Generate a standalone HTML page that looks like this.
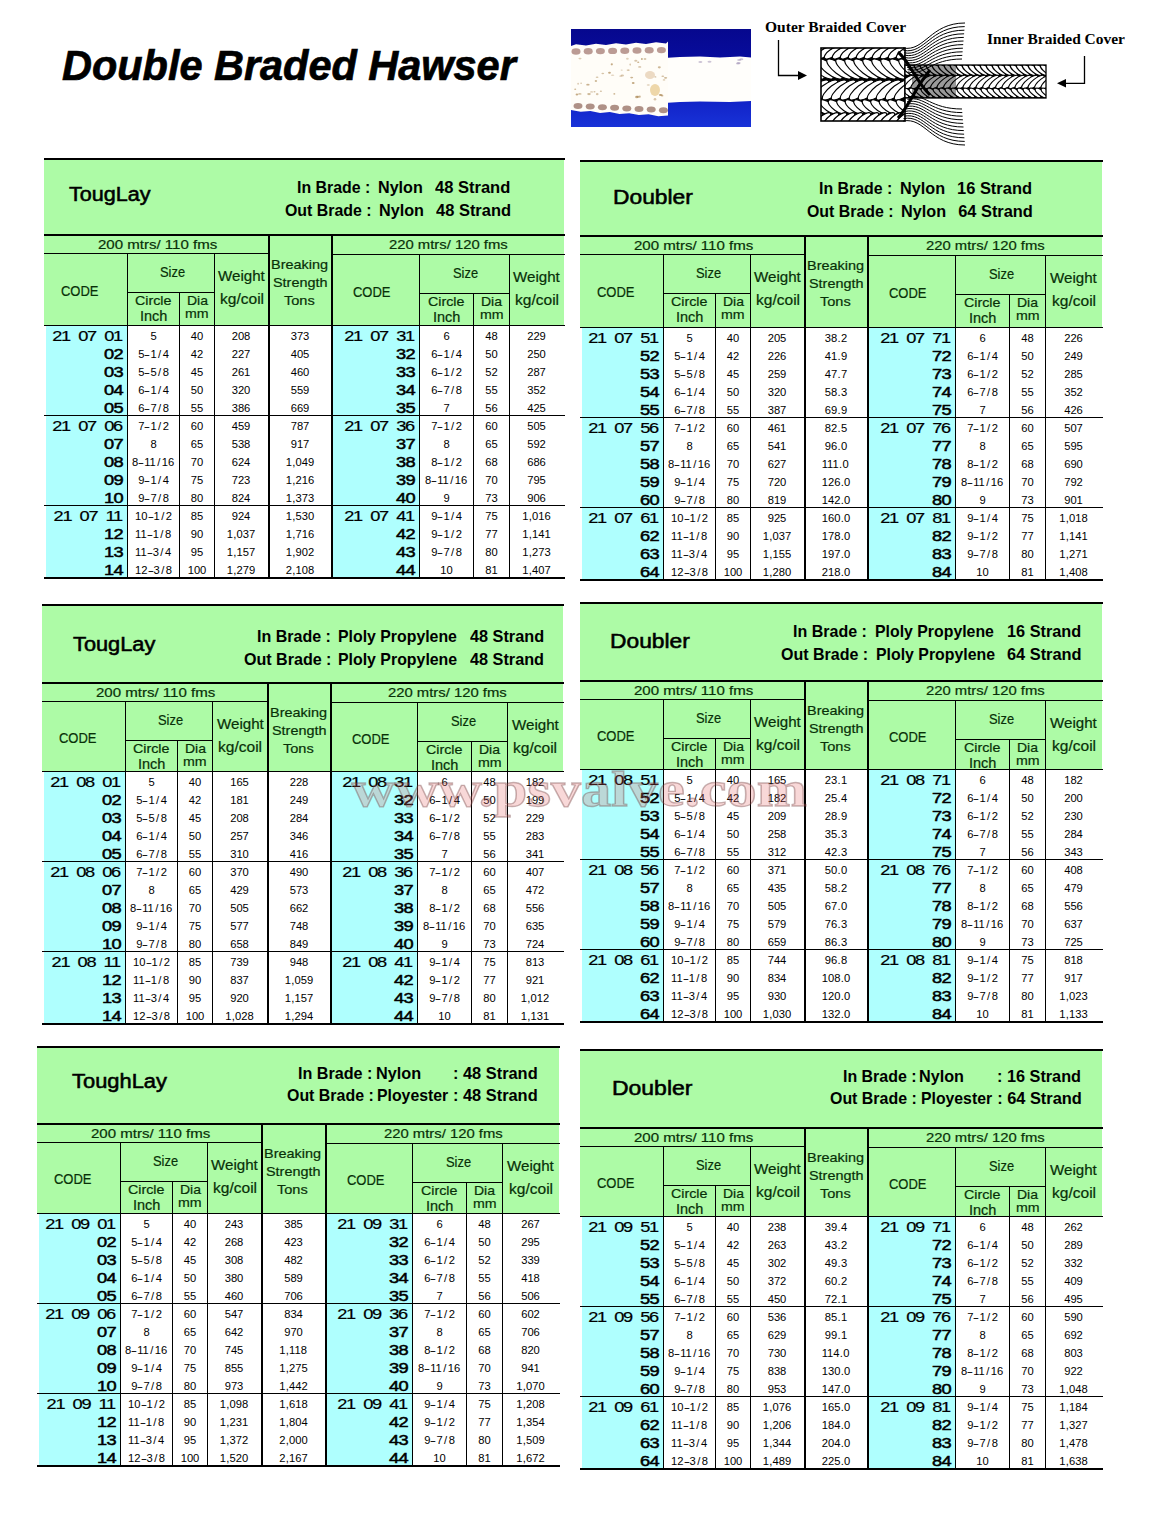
<!DOCTYPE html>
<html><head><meta charset="utf-8"><style>
html,body{margin:0;padding:0;background:#fff;}
body{width:1152px;height:1516px;position:relative;overflow:hidden;}
div{position:absolute;white-space:pre;margin:0;padding:0;}
i{position:absolute;display:block;}
.c{-webkit-text-stroke:0.2px #000;font:400 15.2px/15.2px "Liberation Sans",sans-serif;letter-spacing:-1.03px;word-spacing:3.64px;width:100px;text-align:right;color:#000;transform:scaleX(1.2);transform-origin:100% 50%;}
.v{font:400 11.2px/11.2px "Liberation Sans",sans-serif;color:#000;}
.v b{display:inline-block;width:6px;text-align:center;font-weight:400;}
.v s{display:inline-block;width:3.7px;text-align:center;text-decoration:none;}
.v u{display:inline-block;width:6px;text-align:center;text-decoration:none;transform:scaleX(1.7);}
.h{color:#083008;-webkit-text-stroke:0.2px #083008;}
</style></head><body>
<i style="left:44px;top:158px;width:520px;height:76px;background:#adfba6;"></i>
<i style="left:44px;top:234px;width:520px;height:92px;background:#adfba6;"></i>
<i style="left:46px;top:326px;width:81px;height:251px;background:#affffe;"></i>
<i style="left:333px;top:326px;width:86px;height:251px;background:#affffe;"></i>
<i style="left:44px;top:158px;width:521px;height:2px;background:#000;"></i>
<i style="left:44px;top:234px;width:521px;height:2px;background:#000;"></i>
<i style="left:44px;top:253px;width:224px;height:1px;background:#000;"></i>
<i style="left:333px;top:254px;width:232px;height:1px;background:#000;"></i>
<i style="left:127px;top:292px;width:87px;height:1px;background:#000;"></i>
<i style="left:419px;top:293px;width:90px;height:1px;background:#000;"></i>
<i style="left:44px;top:325px;width:289px;height:1px;background:#000;"></i>
<i style="left:333px;top:325px;width:232px;height:1px;background:#000;"></i>
<i style="left:44px;top:415px;width:521px;height:1px;background:#000;"></i>
<i style="left:44px;top:505px;width:521px;height:1px;background:#000;"></i>
<i style="left:44px;top:577px;width:521px;height:2px;background:#000;"></i>
<i style="left:127px;top:253px;width:1px;height:324px;background:#000;"></i>
<i style="left:179px;top:292px;width:1px;height:285px;background:#000;"></i>
<i style="left:214px;top:253px;width:1px;height:324px;background:#000;"></i>
<i style="left:268px;top:234px;width:2px;height:343px;background:#000;"></i>
<i style="left:331px;top:234px;width:2px;height:343px;background:#000;"></i>
<i style="left:419px;top:254px;width:1px;height:323px;background:#000;"></i>
<i style="left:473px;top:293px;width:1px;height:284px;background:#000;"></i>
<i style="left:509px;top:254px;width:1px;height:323px;background:#000;"></i>
<div style="left:97.85px;top:237.54px;font:normal 400 13.3px/13.3px 'Liberation Sans';transform:scale(1.131,1.000);transform-origin:0 11.26px;color:#083008;-webkit-text-stroke:0.2px #083008;">200 mtrs/ 110 fms</div>
<div style="left:389.06px;top:238.34px;font:normal 400 13.3px/13.3px 'Liberation Sans';transform:scale(1.115,1.000);transform-origin:0 11.26px;color:#083008;-webkit-text-stroke:0.2px #083008;">220 mtrs/ 120 fms</div>
<div style="left:61.20px;top:283.71px;font:normal 400 14.4px/14.4px 'Liberation Sans';transform:scale(0.902,1.000);transform-origin:0 12.19px;color:#083008;-webkit-text-stroke:0.2px #083008;">CODE</div>
<div style="left:353.20px;top:284.91px;font:normal 400 14.4px/14.4px 'Liberation Sans';transform:scale(0.902,1.000);transform-origin:0 12.19px;color:#083008;-webkit-text-stroke:0.2px #083008;">CODE</div>
<div style="left:159.57px;top:264.63px;font:normal 400 14.5px/14.5px 'Liberation Sans';transform:scale(0.889,1.000);transform-origin:0 12.27px;color:#083008;-webkit-text-stroke:0.2px #083008;">Size</div>
<div style="left:135.19px;top:295.48px;font:normal 400 12.9px/12.9px 'Liberation Sans';transform:scale(1.106,1.000);transform-origin:0 10.92px;color:#083008;-webkit-text-stroke:0.2px #083008;">Circle</div>
<div style="left:139.69px;top:309.31px;font:normal 400 14.4px/14.4px 'Liberation Sans';transform:scale(1.009,1.000);transform-origin:0 12.19px;color:#083008;-webkit-text-stroke:0.2px #083008;">Inch</div>
<div style="left:186.88px;top:295.48px;font:normal 400 12.9px/12.9px 'Liberation Sans';transform:scale(1.086,1.000);transform-origin:0 10.92px;color:#083008;-webkit-text-stroke:0.2px #083008;">Dia</div>
<div style="left:185.18px;top:307.17px;font:normal 400 13.5px/13.5px 'Liberation Sans';transform:scale(1.049,1.000);transform-origin:0 11.43px;color:#083008;-webkit-text-stroke:0.2px #083008;">mm</div>
<div style="left:218.22px;top:268.73px;font:normal 400 14.2px/14.2px 'Liberation Sans';transform:scale(1.065,1.000);transform-origin:0 12.02px;color:#083008;-webkit-text-stroke:0.2px #083008;">Weight</div>
<div style="left:219.69px;top:292.41px;font:normal 400 14.4px/14.4px 'Liberation Sans';transform:scale(1.080,1.000);transform-origin:0 12.19px;color:#083008;-webkit-text-stroke:0.2px #083008;">kg/coil</div>
<div style="left:453.07px;top:265.63px;font:normal 400 14.5px/14.5px 'Liberation Sans';transform:scale(0.889,1.000);transform-origin:0 12.27px;color:#083008;-webkit-text-stroke:0.2px #083008;">Size</div>
<div style="left:428.19px;top:296.48px;font:normal 400 12.9px/12.9px 'Liberation Sans';transform:scale(1.106,1.000);transform-origin:0 10.92px;color:#083008;-webkit-text-stroke:0.2px #083008;">Circle</div>
<div style="left:432.69px;top:310.31px;font:normal 400 14.4px/14.4px 'Liberation Sans';transform:scale(1.009,1.000);transform-origin:0 12.19px;color:#083008;-webkit-text-stroke:0.2px #083008;">Inch</div>
<div style="left:481.38px;top:296.48px;font:normal 400 12.9px/12.9px 'Liberation Sans';transform:scale(1.086,1.000);transform-origin:0 10.92px;color:#083008;-webkit-text-stroke:0.2px #083008;">Dia</div>
<div style="left:479.68px;top:308.17px;font:normal 400 13.5px/13.5px 'Liberation Sans';transform:scale(1.049,1.000);transform-origin:0 11.43px;color:#083008;-webkit-text-stroke:0.2px #083008;">mm</div>
<div style="left:513.12px;top:269.73px;font:normal 400 14.2px/14.2px 'Liberation Sans';transform:scale(1.065,1.000);transform-origin:0 12.02px;color:#083008;-webkit-text-stroke:0.2px #083008;">Weight</div>
<div style="left:514.59px;top:293.41px;font:normal 400 14.4px/14.4px 'Liberation Sans';transform:scale(1.080,1.000);transform-origin:0 12.19px;color:#083008;-webkit-text-stroke:0.2px #083008;">kg/coil</div>
<div style="left:270.94px;top:257.54px;font:normal 400 13.3px/13.3px 'Liberation Sans';transform:scale(1.086,1.000);transform-origin:0 11.26px;color:#083008;-webkit-text-stroke:0.2px #083008;">Breaking</div>
<div style="left:272.73px;top:276.37px;font:normal 400 13.5px/13.5px 'Liberation Sans';transform:scale(1.067,1.000);transform-origin:0 11.43px;color:#083008;-webkit-text-stroke:0.2px #083008;">Strength</div>
<div style="left:283.76px;top:294.29px;font:normal 400 13.6px/13.6px 'Liberation Sans';transform:scale(1.070,1.000);transform-origin:0 11.51px;color:#083008;-webkit-text-stroke:0.2px #083008;">Tons</div>
<div style="left:68.97px;top:183.67px;font:normal 400 20px/20px 'Liberation Sans';color:#000;transform:scale(1.080,1.000);transform-origin:0 16.93px;-webkit-text-stroke:0.55px #000;">TougLay</div>
<div style="left:296.67px;top:178.62px;font:normal 700 16.4px/16.4px 'Liberation Sans';color:#000;transform:scale(0.970,1.000);transform-origin:0 13.88px;">In Brade :</div>
<div style="left:377.95px;top:178.62px;font:normal 700 16.4px/16.4px 'Liberation Sans';color:#000;transform:scale(0.983,1.000);transform-origin:0 13.88px;">Nylon</div>
<div style="left:434.95px;top:178.62px;font:normal 700 16.4px/16.4px 'Liberation Sans';color:#000;transform:scale(1.008,1.000);transform-origin:0 13.88px;">48 Strand</div>
<div style="left:284.56px;top:201.52px;font:normal 700 16.4px/16.4px 'Liberation Sans';color:#000;transform:scale(0.970,1.000);transform-origin:0 13.88px;">Out Brade :</div>
<div style="left:378.55px;top:201.52px;font:normal 700 16.4px/16.4px 'Liberation Sans';color:#000;transform:scale(0.987,1.000);transform-origin:0 13.88px;">Nylon</div>
<div style="left:436.00px;top:201.52px;font:normal 700 16.4px/16.4px 'Liberation Sans';color:#000;transform:scale(1.005,1.000);transform-origin:0 13.88px;">48 Strand</div>
<div class="c" style="left:21.92px;top:328.33px">21 07 01</div>
<div class="v" style="left:150.39px;top:330.52px">5</div>
<div class="v" style="left:190.77px;top:330.52px">40</div>
<div class="v" style="left:231.66px;top:330.52px">208</div>
<div class="v" style="left:290.66px;top:330.52px">373</div>
<div class="c" style="left:22.50px;top:346.33px;-webkit-text-stroke:0.5px #000;letter-spacing:-0.55px">02</div>
<div class="v" style="left:138.16px;top:348.52px">5<u>-</u>1<b>/</b>4</div>
<div class="v" style="left:190.77px;top:348.52px">42</div>
<div class="v" style="left:231.66px;top:348.52px">227</div>
<div class="v" style="left:290.66px;top:348.52px">405</div>
<div class="c" style="left:22.50px;top:364.33px;-webkit-text-stroke:0.5px #000;letter-spacing:-0.55px">03</div>
<div class="v" style="left:138.16px;top:366.52px">5<u>-</u>5<b>/</b>8</div>
<div class="v" style="left:190.77px;top:366.52px">45</div>
<div class="v" style="left:231.66px;top:366.52px">261</div>
<div class="v" style="left:290.66px;top:366.52px">460</div>
<div class="c" style="left:22.50px;top:382.33px;-webkit-text-stroke:0.5px #000;letter-spacing:-0.55px">04</div>
<div class="v" style="left:138.16px;top:384.52px">6<u>-</u>1<b>/</b>4</div>
<div class="v" style="left:190.77px;top:384.52px">50</div>
<div class="v" style="left:231.66px;top:384.52px">320</div>
<div class="v" style="left:290.66px;top:384.52px">559</div>
<div class="c" style="left:22.50px;top:400.33px;-webkit-text-stroke:0.5px #000;letter-spacing:-0.55px">05</div>
<div class="v" style="left:138.16px;top:402.52px">6<u>-</u>7<b>/</b>8</div>
<div class="v" style="left:190.77px;top:402.52px">55</div>
<div class="v" style="left:231.66px;top:402.52px">386</div>
<div class="v" style="left:290.66px;top:402.52px">669</div>
<div class="c" style="left:21.92px;top:418.33px">21 07 06</div>
<div class="v" style="left:138.16px;top:420.52px">7<u>-</u>1<b>/</b>2</div>
<div class="v" style="left:190.77px;top:420.52px">60</div>
<div class="v" style="left:231.66px;top:420.52px">459</div>
<div class="v" style="left:290.66px;top:420.52px">787</div>
<div class="c" style="left:22.50px;top:436.33px;-webkit-text-stroke:0.5px #000;letter-spacing:-0.55px">07</div>
<div class="v" style="left:150.39px;top:438.52px">8</div>
<div class="v" style="left:190.77px;top:438.52px">65</div>
<div class="v" style="left:231.66px;top:438.52px">538</div>
<div class="v" style="left:290.66px;top:438.52px">917</div>
<div class="c" style="left:22.50px;top:454.33px;-webkit-text-stroke:0.5px #000;letter-spacing:-0.55px">08</div>
<div class="v" style="left:131.93px;top:456.52px">8<u>-</u>11<b>/</b>16</div>
<div class="v" style="left:190.77px;top:456.52px">70</div>
<div class="v" style="left:231.66px;top:456.52px">624</div>
<div class="v" style="left:285.70px;top:456.52px">1<s>,</s>049</div>
<div class="c" style="left:22.50px;top:472.33px;-webkit-text-stroke:0.5px #000;letter-spacing:-0.55px">09</div>
<div class="v" style="left:138.16px;top:474.52px">9<u>-</u>1<b>/</b>4</div>
<div class="v" style="left:190.77px;top:474.52px">75</div>
<div class="v" style="left:231.66px;top:474.52px">723</div>
<div class="v" style="left:285.70px;top:474.52px">1<s>,</s>216</div>
<div class="c" style="left:22.50px;top:490.33px;-webkit-text-stroke:0.5px #000;letter-spacing:-0.55px">10</div>
<div class="v" style="left:138.16px;top:492.52px">9<u>-</u>7<b>/</b>8</div>
<div class="v" style="left:190.77px;top:492.52px">80</div>
<div class="v" style="left:231.66px;top:492.52px">824</div>
<div class="v" style="left:285.70px;top:492.52px">1<s>,</s>373</div>
<div class="c" style="left:21.92px;top:508.33px">21 07 11</div>
<div class="v" style="left:135.05px;top:510.52px">10<u>-</u>1<b>/</b>2</div>
<div class="v" style="left:190.77px;top:510.52px">85</div>
<div class="v" style="left:231.66px;top:510.52px">924</div>
<div class="v" style="left:285.70px;top:510.52px">1<s>,</s>530</div>
<div class="c" style="left:22.50px;top:526.33px;-webkit-text-stroke:0.5px #000;letter-spacing:-0.55px">12</div>
<div class="v" style="left:135.05px;top:528.52px">11<u>-</u>1<b>/</b>8</div>
<div class="v" style="left:190.77px;top:528.52px">90</div>
<div class="v" style="left:226.70px;top:528.52px">1<s>,</s>037</div>
<div class="v" style="left:285.70px;top:528.52px">1<s>,</s>716</div>
<div class="c" style="left:22.50px;top:544.33px;-webkit-text-stroke:0.5px #000;letter-spacing:-0.55px">13</div>
<div class="v" style="left:135.05px;top:546.52px">11<u>-</u>3<b>/</b>4</div>
<div class="v" style="left:190.77px;top:546.52px">95</div>
<div class="v" style="left:226.70px;top:546.52px">1<s>,</s>157</div>
<div class="v" style="left:285.70px;top:546.52px">1<s>,</s>902</div>
<div class="c" style="left:22.50px;top:562.33px;-webkit-text-stroke:0.5px #000;letter-spacing:-0.55px">14</div>
<div class="v" style="left:135.05px;top:564.52px">12<u>-</u>3<b>/</b>8</div>
<div class="v" style="left:187.66px;top:564.52px">100</div>
<div class="v" style="left:226.70px;top:564.52px">1<s>,</s>279</div>
<div class="v" style="left:285.70px;top:564.52px">2<s>,</s>108</div>
<div class="c" style="left:314.42px;top:328.33px">21 07 31</div>
<div class="v" style="left:443.39px;top:330.52px">6</div>
<div class="v" style="left:485.27px;top:330.52px">48</div>
<div class="v" style="left:527.16px;top:330.52px">229</div>
<div class="c" style="left:315.00px;top:346.33px;-webkit-text-stroke:0.5px #000;letter-spacing:-0.55px">32</div>
<div class="v" style="left:431.16px;top:348.52px">6<u>-</u>1<b>/</b>4</div>
<div class="v" style="left:485.27px;top:348.52px">50</div>
<div class="v" style="left:527.16px;top:348.52px">250</div>
<div class="c" style="left:315.00px;top:364.33px;-webkit-text-stroke:0.5px #000;letter-spacing:-0.55px">33</div>
<div class="v" style="left:431.16px;top:366.52px">6<u>-</u>1<b>/</b>2</div>
<div class="v" style="left:485.27px;top:366.52px">52</div>
<div class="v" style="left:527.16px;top:366.52px">287</div>
<div class="c" style="left:315.00px;top:382.33px;-webkit-text-stroke:0.5px #000;letter-spacing:-0.55px">34</div>
<div class="v" style="left:431.16px;top:384.52px">6<u>-</u>7<b>/</b>8</div>
<div class="v" style="left:485.27px;top:384.52px">55</div>
<div class="v" style="left:527.16px;top:384.52px">352</div>
<div class="c" style="left:315.00px;top:400.33px;-webkit-text-stroke:0.5px #000;letter-spacing:-0.55px">35</div>
<div class="v" style="left:443.39px;top:402.52px">7</div>
<div class="v" style="left:485.27px;top:402.52px">56</div>
<div class="v" style="left:527.16px;top:402.52px">425</div>
<div class="c" style="left:314.42px;top:418.33px">21 07 36</div>
<div class="v" style="left:431.16px;top:420.52px">7<u>-</u>1<b>/</b>2</div>
<div class="v" style="left:485.27px;top:420.52px">60</div>
<div class="v" style="left:527.16px;top:420.52px">505</div>
<div class="c" style="left:315.00px;top:436.33px;-webkit-text-stroke:0.5px #000;letter-spacing:-0.55px">37</div>
<div class="v" style="left:443.39px;top:438.52px">8</div>
<div class="v" style="left:485.27px;top:438.52px">65</div>
<div class="v" style="left:527.16px;top:438.52px">592</div>
<div class="c" style="left:315.00px;top:454.33px;-webkit-text-stroke:0.5px #000;letter-spacing:-0.55px">38</div>
<div class="v" style="left:431.16px;top:456.52px">8<u>-</u>1<b>/</b>2</div>
<div class="v" style="left:485.27px;top:456.52px">68</div>
<div class="v" style="left:527.16px;top:456.52px">686</div>
<div class="c" style="left:315.00px;top:472.33px;-webkit-text-stroke:0.5px #000;letter-spacing:-0.55px">39</div>
<div class="v" style="left:424.93px;top:474.52px">8<u>-</u>11<b>/</b>16</div>
<div class="v" style="left:485.27px;top:474.52px">70</div>
<div class="v" style="left:527.16px;top:474.52px">795</div>
<div class="c" style="left:315.00px;top:490.33px;-webkit-text-stroke:0.5px #000;letter-spacing:-0.55px">40</div>
<div class="v" style="left:443.39px;top:492.52px">9</div>
<div class="v" style="left:485.27px;top:492.52px">73</div>
<div class="v" style="left:527.16px;top:492.52px">906</div>
<div class="c" style="left:314.42px;top:508.33px">21 07 41</div>
<div class="v" style="left:431.16px;top:510.52px">9<u>-</u>1<b>/</b>4</div>
<div class="v" style="left:485.27px;top:510.52px">75</div>
<div class="v" style="left:522.20px;top:510.52px">1<s>,</s>016</div>
<div class="c" style="left:315.00px;top:526.33px;-webkit-text-stroke:0.5px #000;letter-spacing:-0.55px">42</div>
<div class="v" style="left:431.16px;top:528.52px">9<u>-</u>1<b>/</b>2</div>
<div class="v" style="left:485.27px;top:528.52px">77</div>
<div class="v" style="left:522.20px;top:528.52px">1<s>,</s>141</div>
<div class="c" style="left:315.00px;top:544.33px;-webkit-text-stroke:0.5px #000;letter-spacing:-0.55px">43</div>
<div class="v" style="left:431.16px;top:546.52px">9<u>-</u>7<b>/</b>8</div>
<div class="v" style="left:485.27px;top:546.52px">80</div>
<div class="v" style="left:522.20px;top:546.52px">1<s>,</s>273</div>
<div class="c" style="left:315.00px;top:562.33px;-webkit-text-stroke:0.5px #000;letter-spacing:-0.55px">44</div>
<div class="v" style="left:440.27px;top:564.52px">10</div>
<div class="v" style="left:485.27px;top:564.52px">81</div>
<div class="v" style="left:522.20px;top:564.52px">1<s>,</s>407</div>
<i style="left:580px;top:160px;width:522px;height:75px;background:#adfba6;"></i>
<i style="left:580px;top:235px;width:522px;height:93px;background:#adfba6;"></i>
<i style="left:582px;top:328px;width:81px;height:251px;background:#affffe;"></i>
<i style="left:869px;top:328px;width:86px;height:251px;background:#affffe;"></i>
<i style="left:580px;top:160px;width:523px;height:2px;background:#000;"></i>
<i style="left:580px;top:235px;width:523px;height:2px;background:#000;"></i>
<i style="left:580px;top:254px;width:224px;height:1px;background:#000;"></i>
<i style="left:869px;top:255px;width:234px;height:1px;background:#000;"></i>
<i style="left:663px;top:293px;width:87px;height:1px;background:#000;"></i>
<i style="left:955px;top:294px;width:90px;height:1px;background:#000;"></i>
<i style="left:580px;top:327px;width:289px;height:1px;background:#000;"></i>
<i style="left:869px;top:327px;width:234px;height:1px;background:#000;"></i>
<i style="left:580px;top:417px;width:523px;height:1px;background:#000;"></i>
<i style="left:580px;top:507px;width:523px;height:1px;background:#000;"></i>
<i style="left:580px;top:579px;width:523px;height:2px;background:#000;"></i>
<i style="left:663px;top:254px;width:1px;height:325px;background:#000;"></i>
<i style="left:715px;top:293px;width:1px;height:286px;background:#000;"></i>
<i style="left:750px;top:254px;width:1px;height:325px;background:#000;"></i>
<i style="left:804px;top:235px;width:2px;height:344px;background:#000;"></i>
<i style="left:867px;top:235px;width:2px;height:344px;background:#000;"></i>
<i style="left:955px;top:255px;width:1px;height:324px;background:#000;"></i>
<i style="left:1009px;top:294px;width:1px;height:285px;background:#000;"></i>
<i style="left:1045px;top:255px;width:1px;height:324px;background:#000;"></i>
<div style="left:633.85px;top:238.54px;font:normal 400 13.3px/13.3px 'Liberation Sans';transform:scale(1.131,1.000);transform-origin:0 11.26px;color:#083008;-webkit-text-stroke:0.2px #083008;">200 mtrs/ 110 fms</div>
<div style="left:926.06px;top:239.34px;font:normal 400 13.3px/13.3px 'Liberation Sans';transform:scale(1.115,1.000);transform-origin:0 11.26px;color:#083008;-webkit-text-stroke:0.2px #083008;">220 mtrs/ 120 fms</div>
<div style="left:597.20px;top:285.21px;font:normal 400 14.4px/14.4px 'Liberation Sans';transform:scale(0.902,1.000);transform-origin:0 12.19px;color:#083008;-webkit-text-stroke:0.2px #083008;">CODE</div>
<div style="left:889.20px;top:286.41px;font:normal 400 14.4px/14.4px 'Liberation Sans';transform:scale(0.902,1.000);transform-origin:0 12.19px;color:#083008;-webkit-text-stroke:0.2px #083008;">CODE</div>
<div style="left:695.57px;top:265.63px;font:normal 400 14.5px/14.5px 'Liberation Sans';transform:scale(0.889,1.000);transform-origin:0 12.27px;color:#083008;-webkit-text-stroke:0.2px #083008;">Size</div>
<div style="left:671.19px;top:296.48px;font:normal 400 12.9px/12.9px 'Liberation Sans';transform:scale(1.106,1.000);transform-origin:0 10.92px;color:#083008;-webkit-text-stroke:0.2px #083008;">Circle</div>
<div style="left:675.69px;top:310.31px;font:normal 400 14.4px/14.4px 'Liberation Sans';transform:scale(1.009,1.000);transform-origin:0 12.19px;color:#083008;-webkit-text-stroke:0.2px #083008;">Inch</div>
<div style="left:722.88px;top:296.48px;font:normal 400 12.9px/12.9px 'Liberation Sans';transform:scale(1.086,1.000);transform-origin:0 10.92px;color:#083008;-webkit-text-stroke:0.2px #083008;">Dia</div>
<div style="left:721.18px;top:308.17px;font:normal 400 13.5px/13.5px 'Liberation Sans';transform:scale(1.049,1.000);transform-origin:0 11.43px;color:#083008;-webkit-text-stroke:0.2px #083008;">mm</div>
<div style="left:754.22px;top:269.73px;font:normal 400 14.2px/14.2px 'Liberation Sans';transform:scale(1.065,1.000);transform-origin:0 12.02px;color:#083008;-webkit-text-stroke:0.2px #083008;">Weight</div>
<div style="left:755.69px;top:293.41px;font:normal 400 14.4px/14.4px 'Liberation Sans';transform:scale(1.080,1.000);transform-origin:0 12.19px;color:#083008;-webkit-text-stroke:0.2px #083008;">kg/coil</div>
<div style="left:989.07px;top:266.63px;font:normal 400 14.5px/14.5px 'Liberation Sans';transform:scale(0.889,1.000);transform-origin:0 12.27px;color:#083008;-webkit-text-stroke:0.2px #083008;">Size</div>
<div style="left:964.19px;top:297.48px;font:normal 400 12.9px/12.9px 'Liberation Sans';transform:scale(1.106,1.000);transform-origin:0 10.92px;color:#083008;-webkit-text-stroke:0.2px #083008;">Circle</div>
<div style="left:968.69px;top:311.31px;font:normal 400 14.4px/14.4px 'Liberation Sans';transform:scale(1.009,1.000);transform-origin:0 12.19px;color:#083008;-webkit-text-stroke:0.2px #083008;">Inch</div>
<div style="left:1017.38px;top:297.48px;font:normal 400 12.9px/12.9px 'Liberation Sans';transform:scale(1.086,1.000);transform-origin:0 10.92px;color:#083008;-webkit-text-stroke:0.2px #083008;">Dia</div>
<div style="left:1015.68px;top:309.17px;font:normal 400 13.5px/13.5px 'Liberation Sans';transform:scale(1.049,1.000);transform-origin:0 11.43px;color:#083008;-webkit-text-stroke:0.2px #083008;">mm</div>
<div style="left:1050.12px;top:270.73px;font:normal 400 14.2px/14.2px 'Liberation Sans';transform:scale(1.065,1.000);transform-origin:0 12.02px;color:#083008;-webkit-text-stroke:0.2px #083008;">Weight</div>
<div style="left:1051.59px;top:294.41px;font:normal 400 14.4px/14.4px 'Liberation Sans';transform:scale(1.080,1.000);transform-origin:0 12.19px;color:#083008;-webkit-text-stroke:0.2px #083008;">kg/coil</div>
<div style="left:806.94px;top:258.54px;font:normal 400 13.3px/13.3px 'Liberation Sans';transform:scale(1.086,1.000);transform-origin:0 11.26px;color:#083008;-webkit-text-stroke:0.2px #083008;">Breaking</div>
<div style="left:808.73px;top:277.37px;font:normal 400 13.5px/13.5px 'Liberation Sans';transform:scale(1.067,1.000);transform-origin:0 11.43px;color:#083008;-webkit-text-stroke:0.2px #083008;">Strength</div>
<div style="left:819.76px;top:295.29px;font:normal 400 13.6px/13.6px 'Liberation Sans';transform:scale(1.070,1.000);transform-origin:0 11.51px;color:#083008;-webkit-text-stroke:0.2px #083008;">Tons</div>
<div style="left:613.28px;top:186.97px;font:normal 400 20px/20px 'Liberation Sans';color:#000;transform:scale(1.140,1.000);transform-origin:0 16.93px;-webkit-text-stroke:0.55px #000;">Doubler</div>
<div style="left:818.77px;top:180.02px;font:normal 700 16.4px/16.4px 'Liberation Sans';color:#000;transform:scale(0.970,1.000);transform-origin:0 13.88px;">In Brade :</div>
<div style="left:899.95px;top:180.02px;font:normal 700 16.4px/16.4px 'Liberation Sans';color:#000;transform:scale(0.989,1.000);transform-origin:0 13.88px;">Nylon</div>
<div style="left:957.31px;top:180.02px;font:normal 700 16.4px/16.4px 'Liberation Sans';color:#000;transform:scale(1.004,1.000);transform-origin:0 13.88px;">16 Strand</div>
<div style="left:806.66px;top:202.92px;font:normal 700 16.4px/16.4px 'Liberation Sans';color:#000;transform:scale(0.970,1.000);transform-origin:0 13.88px;">Out Brade :</div>
<div style="left:900.95px;top:202.92px;font:normal 700 16.4px/16.4px 'Liberation Sans';color:#000;transform:scale(0.989,1.000);transform-origin:0 13.88px;">Nylon</div>
<div style="left:958.18px;top:202.92px;font:normal 700 16.4px/16.4px 'Liberation Sans';color:#000;">64 Strand</div>
<div class="c" style="left:557.92px;top:330.33px">21 07 51</div>
<div class="v" style="left:686.39px;top:332.52px">5</div>
<div class="v" style="left:726.77px;top:332.52px">40</div>
<div class="v" style="left:767.66px;top:332.52px">205</div>
<div class="v" style="left:824.81px;top:332.52px">38<s>.</s>2</div>
<div class="c" style="left:558.50px;top:348.33px;-webkit-text-stroke:0.5px #000;letter-spacing:-0.55px">52</div>
<div class="v" style="left:674.16px;top:350.52px">5<u>-</u>1<b>/</b>4</div>
<div class="v" style="left:726.77px;top:350.52px">42</div>
<div class="v" style="left:767.66px;top:350.52px">226</div>
<div class="v" style="left:824.81px;top:350.52px">41<s>.</s>9</div>
<div class="c" style="left:558.50px;top:366.33px;-webkit-text-stroke:0.5px #000;letter-spacing:-0.55px">53</div>
<div class="v" style="left:674.16px;top:368.52px">5<u>-</u>5<b>/</b>8</div>
<div class="v" style="left:726.77px;top:368.52px">45</div>
<div class="v" style="left:767.66px;top:368.52px">259</div>
<div class="v" style="left:824.81px;top:368.52px">47<s>.</s>7</div>
<div class="c" style="left:558.50px;top:384.33px;-webkit-text-stroke:0.5px #000;letter-spacing:-0.55px">54</div>
<div class="v" style="left:674.16px;top:386.52px">6<u>-</u>1<b>/</b>4</div>
<div class="v" style="left:726.77px;top:386.52px">50</div>
<div class="v" style="left:767.66px;top:386.52px">320</div>
<div class="v" style="left:824.81px;top:386.52px">58<s>.</s>3</div>
<div class="c" style="left:558.50px;top:402.33px;-webkit-text-stroke:0.5px #000;letter-spacing:-0.55px">55</div>
<div class="v" style="left:674.16px;top:404.52px">6<u>-</u>7<b>/</b>8</div>
<div class="v" style="left:726.77px;top:404.52px">55</div>
<div class="v" style="left:767.66px;top:404.52px">387</div>
<div class="v" style="left:824.81px;top:404.52px">69<s>.</s>9</div>
<div class="c" style="left:557.92px;top:420.33px">21 07 56</div>
<div class="v" style="left:674.16px;top:422.52px">7<u>-</u>1<b>/</b>2</div>
<div class="v" style="left:726.77px;top:422.52px">60</div>
<div class="v" style="left:767.66px;top:422.52px">461</div>
<div class="v" style="left:824.81px;top:422.52px">82<s>.</s>5</div>
<div class="c" style="left:558.50px;top:438.33px;-webkit-text-stroke:0.5px #000;letter-spacing:-0.55px">57</div>
<div class="v" style="left:686.39px;top:440.52px">8</div>
<div class="v" style="left:726.77px;top:440.52px">65</div>
<div class="v" style="left:767.66px;top:440.52px">541</div>
<div class="v" style="left:824.81px;top:440.52px">96<s>.</s>0</div>
<div class="c" style="left:558.50px;top:456.33px;-webkit-text-stroke:0.5px #000;letter-spacing:-0.55px">58</div>
<div class="v" style="left:667.93px;top:458.52px">8<u>-</u>11<b>/</b>16</div>
<div class="v" style="left:726.77px;top:458.52px">70</div>
<div class="v" style="left:767.66px;top:458.52px">627</div>
<div class="v" style="left:821.70px;top:458.52px">111<s>.</s>0</div>
<div class="c" style="left:558.50px;top:474.33px;-webkit-text-stroke:0.5px #000;letter-spacing:-0.55px">59</div>
<div class="v" style="left:674.16px;top:476.52px">9<u>-</u>1<b>/</b>4</div>
<div class="v" style="left:726.77px;top:476.52px">75</div>
<div class="v" style="left:767.66px;top:476.52px">720</div>
<div class="v" style="left:821.70px;top:476.52px">126<s>.</s>0</div>
<div class="c" style="left:558.50px;top:492.33px;-webkit-text-stroke:0.5px #000;letter-spacing:-0.55px">60</div>
<div class="v" style="left:674.16px;top:494.52px">9<u>-</u>7<b>/</b>8</div>
<div class="v" style="left:726.77px;top:494.52px">80</div>
<div class="v" style="left:767.66px;top:494.52px">819</div>
<div class="v" style="left:821.70px;top:494.52px">142<s>.</s>0</div>
<div class="c" style="left:557.92px;top:510.33px">21 07 61</div>
<div class="v" style="left:671.05px;top:512.52px">10<u>-</u>1<b>/</b>2</div>
<div class="v" style="left:726.77px;top:512.52px">85</div>
<div class="v" style="left:767.66px;top:512.52px">925</div>
<div class="v" style="left:821.70px;top:512.52px">160<s>.</s>0</div>
<div class="c" style="left:558.50px;top:528.33px;-webkit-text-stroke:0.5px #000;letter-spacing:-0.55px">62</div>
<div class="v" style="left:671.05px;top:530.52px">11<u>-</u>1<b>/</b>8</div>
<div class="v" style="left:726.77px;top:530.52px">90</div>
<div class="v" style="left:762.70px;top:530.52px">1<s>,</s>037</div>
<div class="v" style="left:821.70px;top:530.52px">178<s>.</s>0</div>
<div class="c" style="left:558.50px;top:546.33px;-webkit-text-stroke:0.5px #000;letter-spacing:-0.55px">63</div>
<div class="v" style="left:671.05px;top:548.52px">11<u>-</u>3<b>/</b>4</div>
<div class="v" style="left:726.77px;top:548.52px">95</div>
<div class="v" style="left:762.70px;top:548.52px">1<s>,</s>155</div>
<div class="v" style="left:821.70px;top:548.52px">197<s>.</s>0</div>
<div class="c" style="left:558.50px;top:564.33px;-webkit-text-stroke:0.5px #000;letter-spacing:-0.55px">64</div>
<div class="v" style="left:671.05px;top:566.52px">12<u>-</u>3<b>/</b>8</div>
<div class="v" style="left:723.66px;top:566.52px">100</div>
<div class="v" style="left:762.70px;top:566.52px">1<s>,</s>280</div>
<div class="v" style="left:821.70px;top:566.52px">218<s>.</s>0</div>
<div class="c" style="left:850.42px;top:330.33px">21 07 71</div>
<div class="v" style="left:979.39px;top:332.52px">6</div>
<div class="v" style="left:1021.27px;top:332.52px">48</div>
<div class="v" style="left:1064.16px;top:332.52px">226</div>
<div class="c" style="left:851.00px;top:348.33px;-webkit-text-stroke:0.5px #000;letter-spacing:-0.55px">72</div>
<div class="v" style="left:967.16px;top:350.52px">6<u>-</u>1<b>/</b>4</div>
<div class="v" style="left:1021.27px;top:350.52px">50</div>
<div class="v" style="left:1064.16px;top:350.52px">249</div>
<div class="c" style="left:851.00px;top:366.33px;-webkit-text-stroke:0.5px #000;letter-spacing:-0.55px">73</div>
<div class="v" style="left:967.16px;top:368.52px">6<u>-</u>1<b>/</b>2</div>
<div class="v" style="left:1021.27px;top:368.52px">52</div>
<div class="v" style="left:1064.16px;top:368.52px">285</div>
<div class="c" style="left:851.00px;top:384.33px;-webkit-text-stroke:0.5px #000;letter-spacing:-0.55px">74</div>
<div class="v" style="left:967.16px;top:386.52px">6<u>-</u>7<b>/</b>8</div>
<div class="v" style="left:1021.27px;top:386.52px">55</div>
<div class="v" style="left:1064.16px;top:386.52px">352</div>
<div class="c" style="left:851.00px;top:402.33px;-webkit-text-stroke:0.5px #000;letter-spacing:-0.55px">75</div>
<div class="v" style="left:979.39px;top:404.52px">7</div>
<div class="v" style="left:1021.27px;top:404.52px">56</div>
<div class="v" style="left:1064.16px;top:404.52px">426</div>
<div class="c" style="left:850.42px;top:420.33px">21 07 76</div>
<div class="v" style="left:967.16px;top:422.52px">7<u>-</u>1<b>/</b>2</div>
<div class="v" style="left:1021.27px;top:422.52px">60</div>
<div class="v" style="left:1064.16px;top:422.52px">507</div>
<div class="c" style="left:851.00px;top:438.33px;-webkit-text-stroke:0.5px #000;letter-spacing:-0.55px">77</div>
<div class="v" style="left:979.39px;top:440.52px">8</div>
<div class="v" style="left:1021.27px;top:440.52px">65</div>
<div class="v" style="left:1064.16px;top:440.52px">595</div>
<div class="c" style="left:851.00px;top:456.33px;-webkit-text-stroke:0.5px #000;letter-spacing:-0.55px">78</div>
<div class="v" style="left:967.16px;top:458.52px">8<u>-</u>1<b>/</b>2</div>
<div class="v" style="left:1021.27px;top:458.52px">68</div>
<div class="v" style="left:1064.16px;top:458.52px">690</div>
<div class="c" style="left:851.00px;top:474.33px;-webkit-text-stroke:0.5px #000;letter-spacing:-0.55px">79</div>
<div class="v" style="left:960.93px;top:476.52px">8<u>-</u>11<b>/</b>16</div>
<div class="v" style="left:1021.27px;top:476.52px">70</div>
<div class="v" style="left:1064.16px;top:476.52px">792</div>
<div class="c" style="left:851.00px;top:492.33px;-webkit-text-stroke:0.5px #000;letter-spacing:-0.55px">80</div>
<div class="v" style="left:979.39px;top:494.52px">9</div>
<div class="v" style="left:1021.27px;top:494.52px">73</div>
<div class="v" style="left:1064.16px;top:494.52px">901</div>
<div class="c" style="left:850.42px;top:510.33px">21 07 81</div>
<div class="v" style="left:967.16px;top:512.52px">9<u>-</u>1<b>/</b>4</div>
<div class="v" style="left:1021.27px;top:512.52px">75</div>
<div class="v" style="left:1059.20px;top:512.52px">1<s>,</s>018</div>
<div class="c" style="left:851.00px;top:528.33px;-webkit-text-stroke:0.5px #000;letter-spacing:-0.55px">82</div>
<div class="v" style="left:967.16px;top:530.52px">9<u>-</u>1<b>/</b>2</div>
<div class="v" style="left:1021.27px;top:530.52px">77</div>
<div class="v" style="left:1059.20px;top:530.52px">1<s>,</s>141</div>
<div class="c" style="left:851.00px;top:546.33px;-webkit-text-stroke:0.5px #000;letter-spacing:-0.55px">83</div>
<div class="v" style="left:967.16px;top:548.52px">9<u>-</u>7<b>/</b>8</div>
<div class="v" style="left:1021.27px;top:548.52px">80</div>
<div class="v" style="left:1059.20px;top:548.52px">1<s>,</s>271</div>
<div class="c" style="left:851.00px;top:564.33px;-webkit-text-stroke:0.5px #000;letter-spacing:-0.55px">84</div>
<div class="v" style="left:976.27px;top:566.52px">10</div>
<div class="v" style="left:1021.27px;top:566.52px">81</div>
<div class="v" style="left:1059.20px;top:566.52px">1<s>,</s>408</div>
<i style="left:42px;top:604px;width:521px;height:78px;background:#adfba6;"></i>
<i style="left:42px;top:682px;width:521px;height:90px;background:#adfba6;"></i>
<i style="left:44px;top:772px;width:81px;height:251px;background:#affffe;"></i>
<i style="left:332px;top:772px;width:85px;height:251px;background:#affffe;"></i>
<i style="left:42px;top:604px;width:522px;height:2px;background:#000;"></i>
<i style="left:42px;top:682px;width:522px;height:2px;background:#000;"></i>
<i style="left:42px;top:701px;width:225px;height:1px;background:#000;"></i>
<i style="left:332px;top:702px;width:232px;height:1px;background:#000;"></i>
<i style="left:125px;top:740px;width:87px;height:1px;background:#000;"></i>
<i style="left:417px;top:741px;width:90px;height:1px;background:#000;"></i>
<i style="left:42px;top:771px;width:290px;height:1px;background:#000;"></i>
<i style="left:332px;top:771px;width:232px;height:1px;background:#000;"></i>
<i style="left:42px;top:861px;width:522px;height:1px;background:#000;"></i>
<i style="left:42px;top:951px;width:522px;height:1px;background:#000;"></i>
<i style="left:42px;top:1023px;width:522px;height:2px;background:#000;"></i>
<i style="left:125px;top:701px;width:1px;height:322px;background:#000;"></i>
<i style="left:177px;top:740px;width:1px;height:283px;background:#000;"></i>
<i style="left:212px;top:701px;width:1px;height:322px;background:#000;"></i>
<i style="left:267px;top:682px;width:2px;height:341px;background:#000;"></i>
<i style="left:330px;top:682px;width:2px;height:341px;background:#000;"></i>
<i style="left:417px;top:702px;width:1px;height:321px;background:#000;"></i>
<i style="left:471px;top:741px;width:1px;height:282px;background:#000;"></i>
<i style="left:507px;top:702px;width:1px;height:321px;background:#000;"></i>
<div style="left:96.35px;top:685.54px;font:normal 400 13.3px/13.3px 'Liberation Sans';transform:scale(1.131,1.000);transform-origin:0 11.26px;color:#083008;-webkit-text-stroke:0.2px #083008;">200 mtrs/ 110 fms</div>
<div style="left:388.06px;top:686.34px;font:normal 400 13.3px/13.3px 'Liberation Sans';transform:scale(1.115,1.000);transform-origin:0 11.26px;color:#083008;-webkit-text-stroke:0.2px #083008;">220 mtrs/ 120 fms</div>
<div style="left:59.20px;top:730.71px;font:normal 400 14.4px/14.4px 'Liberation Sans';transform:scale(0.902,1.000);transform-origin:0 12.19px;color:#083008;-webkit-text-stroke:0.2px #083008;">CODE</div>
<div style="left:352.20px;top:731.91px;font:normal 400 14.4px/14.4px 'Liberation Sans';transform:scale(0.902,1.000);transform-origin:0 12.19px;color:#083008;-webkit-text-stroke:0.2px #083008;">CODE</div>
<div style="left:157.57px;top:712.63px;font:normal 400 14.5px/14.5px 'Liberation Sans';transform:scale(0.889,1.000);transform-origin:0 12.27px;color:#083008;-webkit-text-stroke:0.2px #083008;">Size</div>
<div style="left:133.19px;top:743.48px;font:normal 400 12.9px/12.9px 'Liberation Sans';transform:scale(1.106,1.000);transform-origin:0 10.92px;color:#083008;-webkit-text-stroke:0.2px #083008;">Circle</div>
<div style="left:137.69px;top:757.31px;font:normal 400 14.4px/14.4px 'Liberation Sans';transform:scale(1.009,1.000);transform-origin:0 12.19px;color:#083008;-webkit-text-stroke:0.2px #083008;">Inch</div>
<div style="left:184.88px;top:743.48px;font:normal 400 12.9px/12.9px 'Liberation Sans';transform:scale(1.086,1.000);transform-origin:0 10.92px;color:#083008;-webkit-text-stroke:0.2px #083008;">Dia</div>
<div style="left:183.18px;top:755.17px;font:normal 400 13.5px/13.5px 'Liberation Sans';transform:scale(1.049,1.000);transform-origin:0 11.43px;color:#083008;-webkit-text-stroke:0.2px #083008;">mm</div>
<div style="left:216.72px;top:716.73px;font:normal 400 14.2px/14.2px 'Liberation Sans';transform:scale(1.065,1.000);transform-origin:0 12.02px;color:#083008;-webkit-text-stroke:0.2px #083008;">Weight</div>
<div style="left:218.19px;top:740.41px;font:normal 400 14.4px/14.4px 'Liberation Sans';transform:scale(1.080,1.000);transform-origin:0 12.19px;color:#083008;-webkit-text-stroke:0.2px #083008;">kg/coil</div>
<div style="left:451.07px;top:713.63px;font:normal 400 14.5px/14.5px 'Liberation Sans';transform:scale(0.889,1.000);transform-origin:0 12.27px;color:#083008;-webkit-text-stroke:0.2px #083008;">Size</div>
<div style="left:426.19px;top:744.48px;font:normal 400 12.9px/12.9px 'Liberation Sans';transform:scale(1.106,1.000);transform-origin:0 10.92px;color:#083008;-webkit-text-stroke:0.2px #083008;">Circle</div>
<div style="left:430.69px;top:758.31px;font:normal 400 14.4px/14.4px 'Liberation Sans';transform:scale(1.009,1.000);transform-origin:0 12.19px;color:#083008;-webkit-text-stroke:0.2px #083008;">Inch</div>
<div style="left:479.38px;top:744.48px;font:normal 400 12.9px/12.9px 'Liberation Sans';transform:scale(1.086,1.000);transform-origin:0 10.92px;color:#083008;-webkit-text-stroke:0.2px #083008;">Dia</div>
<div style="left:477.68px;top:756.17px;font:normal 400 13.5px/13.5px 'Liberation Sans';transform:scale(1.049,1.000);transform-origin:0 11.43px;color:#083008;-webkit-text-stroke:0.2px #083008;">mm</div>
<div style="left:511.62px;top:717.73px;font:normal 400 14.2px/14.2px 'Liberation Sans';transform:scale(1.065,1.000);transform-origin:0 12.02px;color:#083008;-webkit-text-stroke:0.2px #083008;">Weight</div>
<div style="left:513.09px;top:741.41px;font:normal 400 14.4px/14.4px 'Liberation Sans';transform:scale(1.080,1.000);transform-origin:0 12.19px;color:#083008;-webkit-text-stroke:0.2px #083008;">kg/coil</div>
<div style="left:269.94px;top:705.54px;font:normal 400 13.3px/13.3px 'Liberation Sans';transform:scale(1.086,1.000);transform-origin:0 11.26px;color:#083008;-webkit-text-stroke:0.2px #083008;">Breaking</div>
<div style="left:271.73px;top:724.37px;font:normal 400 13.5px/13.5px 'Liberation Sans';transform:scale(1.067,1.000);transform-origin:0 11.43px;color:#083008;-webkit-text-stroke:0.2px #083008;">Strength</div>
<div style="left:282.76px;top:742.29px;font:normal 400 13.6px/13.6px 'Liberation Sans';transform:scale(1.070,1.000);transform-origin:0 11.51px;color:#083008;-webkit-text-stroke:0.2px #083008;">Tons</div>
<div style="left:72.56px;top:633.77px;font:normal 400 20px/20px 'Liberation Sans';color:#000;transform:scale(1.088,1.000);transform-origin:0 16.93px;-webkit-text-stroke:0.55px #000;">TougLay</div>
<div style="left:256.96px;top:628.32px;font:normal 700 16.4px/16.4px 'Liberation Sans';color:#000;transform:scale(0.978,1.000);transform-origin:0 13.88px;">In Brade :</div>
<div style="left:337.57px;top:628.32px;font:normal 700 16.4px/16.4px 'Liberation Sans';color:#000;transform:scale(0.967,1.000);transform-origin:0 13.88px;">Ploly Propylene</div>
<div style="left:469.76px;top:628.32px;font:normal 700 16.4px/16.4px 'Liberation Sans';color:#000;transform:scale(0.992,1.000);transform-origin:0 13.88px;">48 Strand</div>
<div style="left:244.36px;top:650.52px;font:normal 700 16.4px/16.4px 'Liberation Sans';color:#000;transform:scale(0.980,1.000);transform-origin:0 13.88px;">Out Brade :</div>
<div style="left:338.37px;top:650.52px;font:normal 700 16.4px/16.4px 'Liberation Sans';color:#000;transform:scale(0.969,1.000);transform-origin:0 13.88px;">Ploly Propylene</div>
<div style="left:470.36px;top:650.52px;font:normal 700 16.4px/16.4px 'Liberation Sans';color:#000;transform:scale(0.991,1.000);transform-origin:0 13.88px;">48 Strand</div>
<div class="c" style="left:19.92px;top:774.33px">21 08 01</div>
<div class="v" style="left:148.39px;top:776.52px">5</div>
<div class="v" style="left:188.77px;top:776.52px">40</div>
<div class="v" style="left:230.16px;top:776.52px">165</div>
<div class="v" style="left:289.66px;top:776.52px">228</div>
<div class="c" style="left:20.50px;top:792.33px;-webkit-text-stroke:0.5px #000;letter-spacing:-0.55px">02</div>
<div class="v" style="left:136.16px;top:794.52px">5<u>-</u>1<b>/</b>4</div>
<div class="v" style="left:188.77px;top:794.52px">42</div>
<div class="v" style="left:230.16px;top:794.52px">181</div>
<div class="v" style="left:289.66px;top:794.52px">249</div>
<div class="c" style="left:20.50px;top:810.33px;-webkit-text-stroke:0.5px #000;letter-spacing:-0.55px">03</div>
<div class="v" style="left:136.16px;top:812.52px">5<u>-</u>5<b>/</b>8</div>
<div class="v" style="left:188.77px;top:812.52px">45</div>
<div class="v" style="left:230.16px;top:812.52px">208</div>
<div class="v" style="left:289.66px;top:812.52px">284</div>
<div class="c" style="left:20.50px;top:828.33px;-webkit-text-stroke:0.5px #000;letter-spacing:-0.55px">04</div>
<div class="v" style="left:136.16px;top:830.52px">6<u>-</u>1<b>/</b>4</div>
<div class="v" style="left:188.77px;top:830.52px">50</div>
<div class="v" style="left:230.16px;top:830.52px">257</div>
<div class="v" style="left:289.66px;top:830.52px">346</div>
<div class="c" style="left:20.50px;top:846.33px;-webkit-text-stroke:0.5px #000;letter-spacing:-0.55px">05</div>
<div class="v" style="left:136.16px;top:848.52px">6<u>-</u>7<b>/</b>8</div>
<div class="v" style="left:188.77px;top:848.52px">55</div>
<div class="v" style="left:230.16px;top:848.52px">310</div>
<div class="v" style="left:289.66px;top:848.52px">416</div>
<div class="c" style="left:19.92px;top:864.33px">21 08 06</div>
<div class="v" style="left:136.16px;top:866.52px">7<u>-</u>1<b>/</b>2</div>
<div class="v" style="left:188.77px;top:866.52px">60</div>
<div class="v" style="left:230.16px;top:866.52px">370</div>
<div class="v" style="left:289.66px;top:866.52px">490</div>
<div class="c" style="left:20.50px;top:882.33px;-webkit-text-stroke:0.5px #000;letter-spacing:-0.55px">07</div>
<div class="v" style="left:148.39px;top:884.52px">8</div>
<div class="v" style="left:188.77px;top:884.52px">65</div>
<div class="v" style="left:230.16px;top:884.52px">429</div>
<div class="v" style="left:289.66px;top:884.52px">573</div>
<div class="c" style="left:20.50px;top:900.33px;-webkit-text-stroke:0.5px #000;letter-spacing:-0.55px">08</div>
<div class="v" style="left:129.93px;top:902.52px">8<u>-</u>11<b>/</b>16</div>
<div class="v" style="left:188.77px;top:902.52px">70</div>
<div class="v" style="left:230.16px;top:902.52px">505</div>
<div class="v" style="left:289.66px;top:902.52px">662</div>
<div class="c" style="left:20.50px;top:918.33px;-webkit-text-stroke:0.5px #000;letter-spacing:-0.55px">09</div>
<div class="v" style="left:136.16px;top:920.52px">9<u>-</u>1<b>/</b>4</div>
<div class="v" style="left:188.77px;top:920.52px">75</div>
<div class="v" style="left:230.16px;top:920.52px">577</div>
<div class="v" style="left:289.66px;top:920.52px">748</div>
<div class="c" style="left:20.50px;top:936.33px;-webkit-text-stroke:0.5px #000;letter-spacing:-0.55px">10</div>
<div class="v" style="left:136.16px;top:938.52px">9<u>-</u>7<b>/</b>8</div>
<div class="v" style="left:188.77px;top:938.52px">80</div>
<div class="v" style="left:230.16px;top:938.52px">658</div>
<div class="v" style="left:289.66px;top:938.52px">849</div>
<div class="c" style="left:19.92px;top:954.33px">21 08 11</div>
<div class="v" style="left:133.05px;top:956.52px">10<u>-</u>1<b>/</b>2</div>
<div class="v" style="left:188.77px;top:956.52px">85</div>
<div class="v" style="left:230.16px;top:956.52px">739</div>
<div class="v" style="left:289.66px;top:956.52px">948</div>
<div class="c" style="left:20.50px;top:972.33px;-webkit-text-stroke:0.5px #000;letter-spacing:-0.55px">12</div>
<div class="v" style="left:133.05px;top:974.52px">11<u>-</u>1<b>/</b>8</div>
<div class="v" style="left:188.77px;top:974.52px">90</div>
<div class="v" style="left:230.16px;top:974.52px">837</div>
<div class="v" style="left:284.70px;top:974.52px">1<s>,</s>059</div>
<div class="c" style="left:20.50px;top:990.33px;-webkit-text-stroke:0.5px #000;letter-spacing:-0.55px">13</div>
<div class="v" style="left:133.05px;top:992.52px">11<u>-</u>3<b>/</b>4</div>
<div class="v" style="left:188.77px;top:992.52px">95</div>
<div class="v" style="left:230.16px;top:992.52px">920</div>
<div class="v" style="left:284.70px;top:992.52px">1<s>,</s>157</div>
<div class="c" style="left:20.50px;top:1008.33px;-webkit-text-stroke:0.5px #000;letter-spacing:-0.55px">14</div>
<div class="v" style="left:133.05px;top:1010.52px">12<u>-</u>3<b>/</b>8</div>
<div class="v" style="left:185.66px;top:1010.52px">100</div>
<div class="v" style="left:225.20px;top:1010.52px">1<s>,</s>028</div>
<div class="v" style="left:284.70px;top:1010.52px">1<s>,</s>294</div>
<div class="c" style="left:312.42px;top:774.33px">21 08 31</div>
<div class="v" style="left:441.39px;top:776.52px">6</div>
<div class="v" style="left:483.27px;top:776.52px">48</div>
<div class="v" style="left:525.66px;top:776.52px">182</div>
<div class="c" style="left:313.00px;top:792.33px;-webkit-text-stroke:0.5px #000;letter-spacing:-0.55px">32</div>
<div class="v" style="left:429.16px;top:794.52px">6<u>-</u>1<b>/</b>4</div>
<div class="v" style="left:483.27px;top:794.52px">50</div>
<div class="v" style="left:525.66px;top:794.52px">199</div>
<div class="c" style="left:313.00px;top:810.33px;-webkit-text-stroke:0.5px #000;letter-spacing:-0.55px">33</div>
<div class="v" style="left:429.16px;top:812.52px">6<u>-</u>1<b>/</b>2</div>
<div class="v" style="left:483.27px;top:812.52px">52</div>
<div class="v" style="left:525.66px;top:812.52px">229</div>
<div class="c" style="left:313.00px;top:828.33px;-webkit-text-stroke:0.5px #000;letter-spacing:-0.55px">34</div>
<div class="v" style="left:429.16px;top:830.52px">6<u>-</u>7<b>/</b>8</div>
<div class="v" style="left:483.27px;top:830.52px">55</div>
<div class="v" style="left:525.66px;top:830.52px">283</div>
<div class="c" style="left:313.00px;top:846.33px;-webkit-text-stroke:0.5px #000;letter-spacing:-0.55px">35</div>
<div class="v" style="left:441.39px;top:848.52px">7</div>
<div class="v" style="left:483.27px;top:848.52px">56</div>
<div class="v" style="left:525.66px;top:848.52px">341</div>
<div class="c" style="left:312.42px;top:864.33px">21 08 36</div>
<div class="v" style="left:429.16px;top:866.52px">7<u>-</u>1<b>/</b>2</div>
<div class="v" style="left:483.27px;top:866.52px">60</div>
<div class="v" style="left:525.66px;top:866.52px">407</div>
<div class="c" style="left:313.00px;top:882.33px;-webkit-text-stroke:0.5px #000;letter-spacing:-0.55px">37</div>
<div class="v" style="left:441.39px;top:884.52px">8</div>
<div class="v" style="left:483.27px;top:884.52px">65</div>
<div class="v" style="left:525.66px;top:884.52px">472</div>
<div class="c" style="left:313.00px;top:900.33px;-webkit-text-stroke:0.5px #000;letter-spacing:-0.55px">38</div>
<div class="v" style="left:429.16px;top:902.52px">8<u>-</u>1<b>/</b>2</div>
<div class="v" style="left:483.27px;top:902.52px">68</div>
<div class="v" style="left:525.66px;top:902.52px">556</div>
<div class="c" style="left:313.00px;top:918.33px;-webkit-text-stroke:0.5px #000;letter-spacing:-0.55px">39</div>
<div class="v" style="left:422.93px;top:920.52px">8<u>-</u>11<b>/</b>16</div>
<div class="v" style="left:483.27px;top:920.52px">70</div>
<div class="v" style="left:525.66px;top:920.52px">635</div>
<div class="c" style="left:313.00px;top:936.33px;-webkit-text-stroke:0.5px #000;letter-spacing:-0.55px">40</div>
<div class="v" style="left:441.39px;top:938.52px">9</div>
<div class="v" style="left:483.27px;top:938.52px">73</div>
<div class="v" style="left:525.66px;top:938.52px">724</div>
<div class="c" style="left:312.42px;top:954.33px">21 08 41</div>
<div class="v" style="left:429.16px;top:956.52px">9<u>-</u>1<b>/</b>4</div>
<div class="v" style="left:483.27px;top:956.52px">75</div>
<div class="v" style="left:525.66px;top:956.52px">813</div>
<div class="c" style="left:313.00px;top:972.33px;-webkit-text-stroke:0.5px #000;letter-spacing:-0.55px">42</div>
<div class="v" style="left:429.16px;top:974.52px">9<u>-</u>1<b>/</b>2</div>
<div class="v" style="left:483.27px;top:974.52px">77</div>
<div class="v" style="left:525.66px;top:974.52px">921</div>
<div class="c" style="left:313.00px;top:990.33px;-webkit-text-stroke:0.5px #000;letter-spacing:-0.55px">43</div>
<div class="v" style="left:429.16px;top:992.52px">9<u>-</u>7<b>/</b>8</div>
<div class="v" style="left:483.27px;top:992.52px">80</div>
<div class="v" style="left:520.70px;top:992.52px">1<s>,</s>012</div>
<div class="c" style="left:313.00px;top:1008.33px;-webkit-text-stroke:0.5px #000;letter-spacing:-0.55px">44</div>
<div class="v" style="left:438.27px;top:1010.52px">10</div>
<div class="v" style="left:483.27px;top:1010.52px">81</div>
<div class="v" style="left:520.70px;top:1010.52px">1<s>,</s>131</div>
<i style="left:580px;top:602px;width:522px;height:78px;background:#adfba6;"></i>
<i style="left:580px;top:680px;width:522px;height:90px;background:#adfba6;"></i>
<i style="left:582px;top:770px;width:81px;height:251px;background:#affffe;"></i>
<i style="left:869px;top:770px;width:86px;height:251px;background:#affffe;"></i>
<i style="left:580px;top:602px;width:523px;height:2px;background:#000;"></i>
<i style="left:580px;top:680px;width:523px;height:2px;background:#000;"></i>
<i style="left:580px;top:699px;width:224px;height:1px;background:#000;"></i>
<i style="left:869px;top:700px;width:234px;height:1px;background:#000;"></i>
<i style="left:663px;top:738px;width:87px;height:1px;background:#000;"></i>
<i style="left:955px;top:739px;width:90px;height:1px;background:#000;"></i>
<i style="left:580px;top:769px;width:289px;height:1px;background:#000;"></i>
<i style="left:869px;top:769px;width:234px;height:1px;background:#000;"></i>
<i style="left:580px;top:859px;width:523px;height:1px;background:#000;"></i>
<i style="left:580px;top:949px;width:523px;height:1px;background:#000;"></i>
<i style="left:580px;top:1021px;width:523px;height:2px;background:#000;"></i>
<i style="left:663px;top:699px;width:1px;height:322px;background:#000;"></i>
<i style="left:715px;top:738px;width:1px;height:283px;background:#000;"></i>
<i style="left:750px;top:699px;width:1px;height:322px;background:#000;"></i>
<i style="left:804px;top:680px;width:2px;height:341px;background:#000;"></i>
<i style="left:867px;top:680px;width:2px;height:341px;background:#000;"></i>
<i style="left:955px;top:700px;width:1px;height:321px;background:#000;"></i>
<i style="left:1009px;top:739px;width:1px;height:282px;background:#000;"></i>
<i style="left:1045px;top:700px;width:1px;height:321px;background:#000;"></i>
<div style="left:633.85px;top:683.54px;font:normal 400 13.3px/13.3px 'Liberation Sans';transform:scale(1.131,1.000);transform-origin:0 11.26px;color:#083008;-webkit-text-stroke:0.2px #083008;">200 mtrs/ 110 fms</div>
<div style="left:926.06px;top:684.34px;font:normal 400 13.3px/13.3px 'Liberation Sans';transform:scale(1.115,1.000);transform-origin:0 11.26px;color:#083008;-webkit-text-stroke:0.2px #083008;">220 mtrs/ 120 fms</div>
<div style="left:597.20px;top:728.71px;font:normal 400 14.4px/14.4px 'Liberation Sans';transform:scale(0.902,1.000);transform-origin:0 12.19px;color:#083008;-webkit-text-stroke:0.2px #083008;">CODE</div>
<div style="left:889.20px;top:729.91px;font:normal 400 14.4px/14.4px 'Liberation Sans';transform:scale(0.902,1.000);transform-origin:0 12.19px;color:#083008;-webkit-text-stroke:0.2px #083008;">CODE</div>
<div style="left:695.57px;top:710.63px;font:normal 400 14.5px/14.5px 'Liberation Sans';transform:scale(0.889,1.000);transform-origin:0 12.27px;color:#083008;-webkit-text-stroke:0.2px #083008;">Size</div>
<div style="left:671.19px;top:741.48px;font:normal 400 12.9px/12.9px 'Liberation Sans';transform:scale(1.106,1.000);transform-origin:0 10.92px;color:#083008;-webkit-text-stroke:0.2px #083008;">Circle</div>
<div style="left:675.69px;top:755.31px;font:normal 400 14.4px/14.4px 'Liberation Sans';transform:scale(1.009,1.000);transform-origin:0 12.19px;color:#083008;-webkit-text-stroke:0.2px #083008;">Inch</div>
<div style="left:722.88px;top:741.48px;font:normal 400 12.9px/12.9px 'Liberation Sans';transform:scale(1.086,1.000);transform-origin:0 10.92px;color:#083008;-webkit-text-stroke:0.2px #083008;">Dia</div>
<div style="left:721.18px;top:753.17px;font:normal 400 13.5px/13.5px 'Liberation Sans';transform:scale(1.049,1.000);transform-origin:0 11.43px;color:#083008;-webkit-text-stroke:0.2px #083008;">mm</div>
<div style="left:754.22px;top:714.73px;font:normal 400 14.2px/14.2px 'Liberation Sans';transform:scale(1.065,1.000);transform-origin:0 12.02px;color:#083008;-webkit-text-stroke:0.2px #083008;">Weight</div>
<div style="left:755.69px;top:738.41px;font:normal 400 14.4px/14.4px 'Liberation Sans';transform:scale(1.080,1.000);transform-origin:0 12.19px;color:#083008;-webkit-text-stroke:0.2px #083008;">kg/coil</div>
<div style="left:989.07px;top:711.63px;font:normal 400 14.5px/14.5px 'Liberation Sans';transform:scale(0.889,1.000);transform-origin:0 12.27px;color:#083008;-webkit-text-stroke:0.2px #083008;">Size</div>
<div style="left:964.19px;top:742.48px;font:normal 400 12.9px/12.9px 'Liberation Sans';transform:scale(1.106,1.000);transform-origin:0 10.92px;color:#083008;-webkit-text-stroke:0.2px #083008;">Circle</div>
<div style="left:968.69px;top:756.31px;font:normal 400 14.4px/14.4px 'Liberation Sans';transform:scale(1.009,1.000);transform-origin:0 12.19px;color:#083008;-webkit-text-stroke:0.2px #083008;">Inch</div>
<div style="left:1017.38px;top:742.48px;font:normal 400 12.9px/12.9px 'Liberation Sans';transform:scale(1.086,1.000);transform-origin:0 10.92px;color:#083008;-webkit-text-stroke:0.2px #083008;">Dia</div>
<div style="left:1015.68px;top:754.17px;font:normal 400 13.5px/13.5px 'Liberation Sans';transform:scale(1.049,1.000);transform-origin:0 11.43px;color:#083008;-webkit-text-stroke:0.2px #083008;">mm</div>
<div style="left:1050.12px;top:715.73px;font:normal 400 14.2px/14.2px 'Liberation Sans';transform:scale(1.065,1.000);transform-origin:0 12.02px;color:#083008;-webkit-text-stroke:0.2px #083008;">Weight</div>
<div style="left:1051.59px;top:739.41px;font:normal 400 14.4px/14.4px 'Liberation Sans';transform:scale(1.080,1.000);transform-origin:0 12.19px;color:#083008;-webkit-text-stroke:0.2px #083008;">kg/coil</div>
<div style="left:806.94px;top:703.54px;font:normal 400 13.3px/13.3px 'Liberation Sans';transform:scale(1.086,1.000);transform-origin:0 11.26px;color:#083008;-webkit-text-stroke:0.2px #083008;">Breaking</div>
<div style="left:808.73px;top:722.37px;font:normal 400 13.5px/13.5px 'Liberation Sans';transform:scale(1.067,1.000);transform-origin:0 11.43px;color:#083008;-webkit-text-stroke:0.2px #083008;">Strength</div>
<div style="left:819.76px;top:740.29px;font:normal 400 13.6px/13.6px 'Liberation Sans';transform:scale(1.070,1.000);transform-origin:0 11.51px;color:#083008;-webkit-text-stroke:0.2px #083008;">Tons</div>
<div style="left:610.18px;top:630.57px;font:normal 400 20px/20px 'Liberation Sans';color:#000;transform:scale(1.140,1.000);transform-origin:0 16.93px;-webkit-text-stroke:0.55px #000;">Doubler</div>
<div style="left:793.36px;top:623.32px;font:normal 700 16.4px/16.4px 'Liberation Sans';color:#000;transform:scale(0.978,1.000);transform-origin:0 13.88px;">In Brade :</div>
<div style="left:874.57px;top:623.32px;font:normal 700 16.4px/16.4px 'Liberation Sans';color:#000;transform:scale(0.967,1.000);transform-origin:0 13.88px;">Ploly Propylene</div>
<div style="left:1006.52px;top:623.32px;font:normal 700 16.4px/16.4px 'Liberation Sans';color:#000;transform:scale(0.994,1.000);transform-origin:0 13.88px;">16 Strand</div>
<div style="left:781.06px;top:645.52px;font:normal 700 16.4px/16.4px 'Liberation Sans';color:#000;transform:scale(0.977,1.000);transform-origin:0 13.88px;">Out Brade :</div>
<div style="left:875.97px;top:645.52px;font:normal 700 16.4px/16.4px 'Liberation Sans';color:#000;transform:scale(0.968,1.000);transform-origin:0 13.88px;">Ploly Propylene</div>
<div style="left:1006.93px;top:645.52px;font:normal 700 16.4px/16.4px 'Liberation Sans';color:#000;">64 Strand</div>
<div class="c" style="left:557.92px;top:772.33px">21 08 51</div>
<div class="v" style="left:686.39px;top:774.52px">5</div>
<div class="v" style="left:726.77px;top:774.52px">40</div>
<div class="v" style="left:767.66px;top:774.52px">165</div>
<div class="v" style="left:824.81px;top:774.52px">23<s>.</s>1</div>
<div class="c" style="left:558.50px;top:790.33px;-webkit-text-stroke:0.5px #000;letter-spacing:-0.55px">52</div>
<div class="v" style="left:674.16px;top:792.52px">5<u>-</u>1<b>/</b>4</div>
<div class="v" style="left:726.77px;top:792.52px">42</div>
<div class="v" style="left:767.66px;top:792.52px">182</div>
<div class="v" style="left:824.81px;top:792.52px">25<s>.</s>4</div>
<div class="c" style="left:558.50px;top:808.33px;-webkit-text-stroke:0.5px #000;letter-spacing:-0.55px">53</div>
<div class="v" style="left:674.16px;top:810.52px">5<u>-</u>5<b>/</b>8</div>
<div class="v" style="left:726.77px;top:810.52px">45</div>
<div class="v" style="left:767.66px;top:810.52px">209</div>
<div class="v" style="left:824.81px;top:810.52px">28<s>.</s>9</div>
<div class="c" style="left:558.50px;top:826.33px;-webkit-text-stroke:0.5px #000;letter-spacing:-0.55px">54</div>
<div class="v" style="left:674.16px;top:828.52px">6<u>-</u>1<b>/</b>4</div>
<div class="v" style="left:726.77px;top:828.52px">50</div>
<div class="v" style="left:767.66px;top:828.52px">258</div>
<div class="v" style="left:824.81px;top:828.52px">35<s>.</s>3</div>
<div class="c" style="left:558.50px;top:844.33px;-webkit-text-stroke:0.5px #000;letter-spacing:-0.55px">55</div>
<div class="v" style="left:674.16px;top:846.52px">6<u>-</u>7<b>/</b>8</div>
<div class="v" style="left:726.77px;top:846.52px">55</div>
<div class="v" style="left:767.66px;top:846.52px">312</div>
<div class="v" style="left:824.81px;top:846.52px">42<s>.</s>3</div>
<div class="c" style="left:557.92px;top:862.33px">21 08 56</div>
<div class="v" style="left:674.16px;top:864.52px">7<u>-</u>1<b>/</b>2</div>
<div class="v" style="left:726.77px;top:864.52px">60</div>
<div class="v" style="left:767.66px;top:864.52px">371</div>
<div class="v" style="left:824.81px;top:864.52px">50<s>.</s>0</div>
<div class="c" style="left:558.50px;top:880.33px;-webkit-text-stroke:0.5px #000;letter-spacing:-0.55px">57</div>
<div class="v" style="left:686.39px;top:882.52px">8</div>
<div class="v" style="left:726.77px;top:882.52px">65</div>
<div class="v" style="left:767.66px;top:882.52px">435</div>
<div class="v" style="left:824.81px;top:882.52px">58<s>.</s>2</div>
<div class="c" style="left:558.50px;top:898.33px;-webkit-text-stroke:0.5px #000;letter-spacing:-0.55px">58</div>
<div class="v" style="left:667.93px;top:900.52px">8<u>-</u>11<b>/</b>16</div>
<div class="v" style="left:726.77px;top:900.52px">70</div>
<div class="v" style="left:767.66px;top:900.52px">505</div>
<div class="v" style="left:824.81px;top:900.52px">67<s>.</s>0</div>
<div class="c" style="left:558.50px;top:916.33px;-webkit-text-stroke:0.5px #000;letter-spacing:-0.55px">59</div>
<div class="v" style="left:674.16px;top:918.52px">9<u>-</u>1<b>/</b>4</div>
<div class="v" style="left:726.77px;top:918.52px">75</div>
<div class="v" style="left:767.66px;top:918.52px">579</div>
<div class="v" style="left:824.81px;top:918.52px">76<s>.</s>3</div>
<div class="c" style="left:558.50px;top:934.33px;-webkit-text-stroke:0.5px #000;letter-spacing:-0.55px">60</div>
<div class="v" style="left:674.16px;top:936.52px">9<u>-</u>7<b>/</b>8</div>
<div class="v" style="left:726.77px;top:936.52px">80</div>
<div class="v" style="left:767.66px;top:936.52px">659</div>
<div class="v" style="left:824.81px;top:936.52px">86<s>.</s>3</div>
<div class="c" style="left:557.92px;top:952.33px">21 08 61</div>
<div class="v" style="left:671.05px;top:954.52px">10<u>-</u>1<b>/</b>2</div>
<div class="v" style="left:726.77px;top:954.52px">85</div>
<div class="v" style="left:767.66px;top:954.52px">744</div>
<div class="v" style="left:824.81px;top:954.52px">96<s>.</s>8</div>
<div class="c" style="left:558.50px;top:970.33px;-webkit-text-stroke:0.5px #000;letter-spacing:-0.55px">62</div>
<div class="v" style="left:671.05px;top:972.52px">11<u>-</u>1<b>/</b>8</div>
<div class="v" style="left:726.77px;top:972.52px">90</div>
<div class="v" style="left:767.66px;top:972.52px">834</div>
<div class="v" style="left:821.70px;top:972.52px">108<s>.</s>0</div>
<div class="c" style="left:558.50px;top:988.33px;-webkit-text-stroke:0.5px #000;letter-spacing:-0.55px">63</div>
<div class="v" style="left:671.05px;top:990.52px">11<u>-</u>3<b>/</b>4</div>
<div class="v" style="left:726.77px;top:990.52px">95</div>
<div class="v" style="left:767.66px;top:990.52px">930</div>
<div class="v" style="left:821.70px;top:990.52px">120<s>.</s>0</div>
<div class="c" style="left:558.50px;top:1006.33px;-webkit-text-stroke:0.5px #000;letter-spacing:-0.55px">64</div>
<div class="v" style="left:671.05px;top:1008.52px">12<u>-</u>3<b>/</b>8</div>
<div class="v" style="left:723.66px;top:1008.52px">100</div>
<div class="v" style="left:762.70px;top:1008.52px">1<s>,</s>030</div>
<div class="v" style="left:821.70px;top:1008.52px">132<s>.</s>0</div>
<div class="c" style="left:850.42px;top:772.33px">21 08 71</div>
<div class="v" style="left:979.39px;top:774.52px">6</div>
<div class="v" style="left:1021.27px;top:774.52px">48</div>
<div class="v" style="left:1064.16px;top:774.52px">182</div>
<div class="c" style="left:851.00px;top:790.33px;-webkit-text-stroke:0.5px #000;letter-spacing:-0.55px">72</div>
<div class="v" style="left:967.16px;top:792.52px">6<u>-</u>1<b>/</b>4</div>
<div class="v" style="left:1021.27px;top:792.52px">50</div>
<div class="v" style="left:1064.16px;top:792.52px">200</div>
<div class="c" style="left:851.00px;top:808.33px;-webkit-text-stroke:0.5px #000;letter-spacing:-0.55px">73</div>
<div class="v" style="left:967.16px;top:810.52px">6<u>-</u>1<b>/</b>2</div>
<div class="v" style="left:1021.27px;top:810.52px">52</div>
<div class="v" style="left:1064.16px;top:810.52px">230</div>
<div class="c" style="left:851.00px;top:826.33px;-webkit-text-stroke:0.5px #000;letter-spacing:-0.55px">74</div>
<div class="v" style="left:967.16px;top:828.52px">6<u>-</u>7<b>/</b>8</div>
<div class="v" style="left:1021.27px;top:828.52px">55</div>
<div class="v" style="left:1064.16px;top:828.52px">284</div>
<div class="c" style="left:851.00px;top:844.33px;-webkit-text-stroke:0.5px #000;letter-spacing:-0.55px">75</div>
<div class="v" style="left:979.39px;top:846.52px">7</div>
<div class="v" style="left:1021.27px;top:846.52px">56</div>
<div class="v" style="left:1064.16px;top:846.52px">343</div>
<div class="c" style="left:850.42px;top:862.33px">21 08 76</div>
<div class="v" style="left:967.16px;top:864.52px">7<u>-</u>1<b>/</b>2</div>
<div class="v" style="left:1021.27px;top:864.52px">60</div>
<div class="v" style="left:1064.16px;top:864.52px">408</div>
<div class="c" style="left:851.00px;top:880.33px;-webkit-text-stroke:0.5px #000;letter-spacing:-0.55px">77</div>
<div class="v" style="left:979.39px;top:882.52px">8</div>
<div class="v" style="left:1021.27px;top:882.52px">65</div>
<div class="v" style="left:1064.16px;top:882.52px">479</div>
<div class="c" style="left:851.00px;top:898.33px;-webkit-text-stroke:0.5px #000;letter-spacing:-0.55px">78</div>
<div class="v" style="left:967.16px;top:900.52px">8<u>-</u>1<b>/</b>2</div>
<div class="v" style="left:1021.27px;top:900.52px">68</div>
<div class="v" style="left:1064.16px;top:900.52px">556</div>
<div class="c" style="left:851.00px;top:916.33px;-webkit-text-stroke:0.5px #000;letter-spacing:-0.55px">79</div>
<div class="v" style="left:960.93px;top:918.52px">8<u>-</u>11<b>/</b>16</div>
<div class="v" style="left:1021.27px;top:918.52px">70</div>
<div class="v" style="left:1064.16px;top:918.52px">637</div>
<div class="c" style="left:851.00px;top:934.33px;-webkit-text-stroke:0.5px #000;letter-spacing:-0.55px">80</div>
<div class="v" style="left:979.39px;top:936.52px">9</div>
<div class="v" style="left:1021.27px;top:936.52px">73</div>
<div class="v" style="left:1064.16px;top:936.52px">725</div>
<div class="c" style="left:850.42px;top:952.33px">21 08 81</div>
<div class="v" style="left:967.16px;top:954.52px">9<u>-</u>1<b>/</b>4</div>
<div class="v" style="left:1021.27px;top:954.52px">75</div>
<div class="v" style="left:1064.16px;top:954.52px">818</div>
<div class="c" style="left:851.00px;top:970.33px;-webkit-text-stroke:0.5px #000;letter-spacing:-0.55px">82</div>
<div class="v" style="left:967.16px;top:972.52px">9<u>-</u>1<b>/</b>2</div>
<div class="v" style="left:1021.27px;top:972.52px">77</div>
<div class="v" style="left:1064.16px;top:972.52px">917</div>
<div class="c" style="left:851.00px;top:988.33px;-webkit-text-stroke:0.5px #000;letter-spacing:-0.55px">83</div>
<div class="v" style="left:967.16px;top:990.52px">9<u>-</u>7<b>/</b>8</div>
<div class="v" style="left:1021.27px;top:990.52px">80</div>
<div class="v" style="left:1059.20px;top:990.52px">1<s>,</s>023</div>
<div class="c" style="left:851.00px;top:1006.33px;-webkit-text-stroke:0.5px #000;letter-spacing:-0.55px">84</div>
<div class="v" style="left:976.27px;top:1008.52px">10</div>
<div class="v" style="left:1021.27px;top:1008.52px">81</div>
<div class="v" style="left:1059.20px;top:1008.52px">1<s>,</s>133</div>
<i style="left:37px;top:1046px;width:522px;height:77px;background:#adfba6;"></i>
<i style="left:37px;top:1123px;width:522px;height:91px;background:#adfba6;"></i>
<i style="left:39px;top:1214px;width:81px;height:251px;background:#affffe;"></i>
<i style="left:327px;top:1214px;width:85px;height:251px;background:#affffe;"></i>
<i style="left:37px;top:1046px;width:523px;height:2px;background:#000;"></i>
<i style="left:37px;top:1123px;width:523px;height:2px;background:#000;"></i>
<i style="left:37px;top:1142px;width:224px;height:1px;background:#000;"></i>
<i style="left:327px;top:1143px;width:233px;height:1px;background:#000;"></i>
<i style="left:120px;top:1181px;width:87px;height:1px;background:#000;"></i>
<i style="left:412px;top:1182px;width:90px;height:1px;background:#000;"></i>
<i style="left:37px;top:1213px;width:290px;height:1px;background:#000;"></i>
<i style="left:327px;top:1213px;width:233px;height:1px;background:#000;"></i>
<i style="left:37px;top:1303px;width:523px;height:1px;background:#000;"></i>
<i style="left:37px;top:1393px;width:523px;height:1px;background:#000;"></i>
<i style="left:37px;top:1465px;width:523px;height:2px;background:#000;"></i>
<i style="left:120px;top:1142px;width:1px;height:323px;background:#000;"></i>
<i style="left:172px;top:1181px;width:1px;height:284px;background:#000;"></i>
<i style="left:207px;top:1142px;width:1px;height:323px;background:#000;"></i>
<i style="left:261px;top:1123px;width:2px;height:342px;background:#000;"></i>
<i style="left:325px;top:1123px;width:2px;height:342px;background:#000;"></i>
<i style="left:412px;top:1143px;width:1px;height:322px;background:#000;"></i>
<i style="left:466px;top:1182px;width:1px;height:283px;background:#000;"></i>
<i style="left:502px;top:1143px;width:1px;height:322px;background:#000;"></i>
<div style="left:90.85px;top:1126.54px;font:normal 400 13.3px/13.3px 'Liberation Sans';transform:scale(1.131,1.000);transform-origin:0 11.26px;color:#083008;-webkit-text-stroke:0.2px #083008;">200 mtrs/ 110 fms</div>
<div style="left:383.56px;top:1127.34px;font:normal 400 13.3px/13.3px 'Liberation Sans';transform:scale(1.115,1.000);transform-origin:0 11.26px;color:#083008;-webkit-text-stroke:0.2px #083008;">220 mtrs/ 120 fms</div>
<div style="left:54.20px;top:1172.21px;font:normal 400 14.4px/14.4px 'Liberation Sans';transform:scale(0.902,1.000);transform-origin:0 12.19px;color:#083008;-webkit-text-stroke:0.2px #083008;">CODE</div>
<div style="left:347.20px;top:1173.41px;font:normal 400 14.4px/14.4px 'Liberation Sans';transform:scale(0.902,1.000);transform-origin:0 12.19px;color:#083008;-webkit-text-stroke:0.2px #083008;">CODE</div>
<div style="left:152.57px;top:1153.63px;font:normal 400 14.5px/14.5px 'Liberation Sans';transform:scale(0.889,1.000);transform-origin:0 12.27px;color:#083008;-webkit-text-stroke:0.2px #083008;">Size</div>
<div style="left:128.19px;top:1184.48px;font:normal 400 12.9px/12.9px 'Liberation Sans';transform:scale(1.106,1.000);transform-origin:0 10.92px;color:#083008;-webkit-text-stroke:0.2px #083008;">Circle</div>
<div style="left:132.69px;top:1198.31px;font:normal 400 14.4px/14.4px 'Liberation Sans';transform:scale(1.009,1.000);transform-origin:0 12.19px;color:#083008;-webkit-text-stroke:0.2px #083008;">Inch</div>
<div style="left:179.88px;top:1184.48px;font:normal 400 12.9px/12.9px 'Liberation Sans';transform:scale(1.086,1.000);transform-origin:0 10.92px;color:#083008;-webkit-text-stroke:0.2px #083008;">Dia</div>
<div style="left:178.18px;top:1196.17px;font:normal 400 13.5px/13.5px 'Liberation Sans';transform:scale(1.049,1.000);transform-origin:0 11.43px;color:#083008;-webkit-text-stroke:0.2px #083008;">mm</div>
<div style="left:211.22px;top:1157.73px;font:normal 400 14.2px/14.2px 'Liberation Sans';transform:scale(1.065,1.000);transform-origin:0 12.02px;color:#083008;-webkit-text-stroke:0.2px #083008;">Weight</div>
<div style="left:212.69px;top:1181.41px;font:normal 400 14.4px/14.4px 'Liberation Sans';transform:scale(1.080,1.000);transform-origin:0 12.19px;color:#083008;-webkit-text-stroke:0.2px #083008;">kg/coil</div>
<div style="left:446.07px;top:1154.63px;font:normal 400 14.5px/14.5px 'Liberation Sans';transform:scale(0.889,1.000);transform-origin:0 12.27px;color:#083008;-webkit-text-stroke:0.2px #083008;">Size</div>
<div style="left:421.19px;top:1185.48px;font:normal 400 12.9px/12.9px 'Liberation Sans';transform:scale(1.106,1.000);transform-origin:0 10.92px;color:#083008;-webkit-text-stroke:0.2px #083008;">Circle</div>
<div style="left:425.69px;top:1199.31px;font:normal 400 14.4px/14.4px 'Liberation Sans';transform:scale(1.009,1.000);transform-origin:0 12.19px;color:#083008;-webkit-text-stroke:0.2px #083008;">Inch</div>
<div style="left:474.38px;top:1185.48px;font:normal 400 12.9px/12.9px 'Liberation Sans';transform:scale(1.086,1.000);transform-origin:0 10.92px;color:#083008;-webkit-text-stroke:0.2px #083008;">Dia</div>
<div style="left:472.68px;top:1197.17px;font:normal 400 13.5px/13.5px 'Liberation Sans';transform:scale(1.049,1.000);transform-origin:0 11.43px;color:#083008;-webkit-text-stroke:0.2px #083008;">mm</div>
<div style="left:507.12px;top:1158.73px;font:normal 400 14.2px/14.2px 'Liberation Sans';transform:scale(1.065,1.000);transform-origin:0 12.02px;color:#083008;-webkit-text-stroke:0.2px #083008;">Weight</div>
<div style="left:508.59px;top:1182.41px;font:normal 400 14.4px/14.4px 'Liberation Sans';transform:scale(1.080,1.000);transform-origin:0 12.19px;color:#083008;-webkit-text-stroke:0.2px #083008;">kg/coil</div>
<div style="left:264.44px;top:1146.54px;font:normal 400 13.3px/13.3px 'Liberation Sans';transform:scale(1.086,1.000);transform-origin:0 11.26px;color:#083008;-webkit-text-stroke:0.2px #083008;">Breaking</div>
<div style="left:266.23px;top:1165.37px;font:normal 400 13.5px/13.5px 'Liberation Sans';transform:scale(1.067,1.000);transform-origin:0 11.43px;color:#083008;-webkit-text-stroke:0.2px #083008;">Strength</div>
<div style="left:277.26px;top:1183.29px;font:normal 400 13.6px/13.6px 'Liberation Sans';transform:scale(1.070,1.000);transform-origin:0 11.51px;color:#083008;-webkit-text-stroke:0.2px #083008;">Tons</div>
<div style="left:71.86px;top:1070.67px;font:normal 400 20px/20px 'Liberation Sans';color:#000;transform:scale(1.095,1.000);transform-origin:0 16.93px;-webkit-text-stroke:0.55px #000;">ToughLay</div>
<div style="left:298.35px;top:1065.12px;font:normal 700 16.4px/16.4px 'Liberation Sans';color:#000;transform:scale(0.984,1.000);transform-origin:0 13.88px;">In Brade :</div>
<div style="left:375.64px;top:1065.12px;font:normal 700 16.4px/16.4px 'Liberation Sans';color:#000;transform:scale(0.992,1.000);transform-origin:0 13.88px;">Nylon</div>
<div style="left:452.95px;top:1065.12px;font:normal 700 16.4px/16.4px 'Liberation Sans';color:#000;">: 48 Strand</div>
<div style="left:286.66px;top:1087.42px;font:normal 700 16.4px/16.4px 'Liberation Sans';color:#000;transform:scale(0.972,1.000);transform-origin:0 13.88px;">Out Brade :</div>
<div style="left:376.67px;top:1087.42px;font:normal 700 16.4px/16.4px 'Liberation Sans';color:#000;transform:scale(0.965,1.000);transform-origin:0 13.88px;">Ployester</div>
<div style="left:452.95px;top:1087.42px;font:normal 700 16.4px/16.4px 'Liberation Sans';color:#000;">: 48 Strand</div>
<div class="c" style="left:14.92px;top:1216.33px">21 09 01</div>
<div class="v" style="left:143.39px;top:1218.52px">5</div>
<div class="v" style="left:183.77px;top:1218.52px">40</div>
<div class="v" style="left:224.66px;top:1218.52px">243</div>
<div class="v" style="left:284.16px;top:1218.52px">385</div>
<div class="c" style="left:15.50px;top:1234.33px;-webkit-text-stroke:0.5px #000;letter-spacing:-0.55px">02</div>
<div class="v" style="left:131.16px;top:1236.52px">5<u>-</u>1<b>/</b>4</div>
<div class="v" style="left:183.77px;top:1236.52px">42</div>
<div class="v" style="left:224.66px;top:1236.52px">268</div>
<div class="v" style="left:284.16px;top:1236.52px">423</div>
<div class="c" style="left:15.50px;top:1252.33px;-webkit-text-stroke:0.5px #000;letter-spacing:-0.55px">03</div>
<div class="v" style="left:131.16px;top:1254.52px">5<u>-</u>5<b>/</b>8</div>
<div class="v" style="left:183.77px;top:1254.52px">45</div>
<div class="v" style="left:224.66px;top:1254.52px">308</div>
<div class="v" style="left:284.16px;top:1254.52px">482</div>
<div class="c" style="left:15.50px;top:1270.33px;-webkit-text-stroke:0.5px #000;letter-spacing:-0.55px">04</div>
<div class="v" style="left:131.16px;top:1272.52px">6<u>-</u>1<b>/</b>4</div>
<div class="v" style="left:183.77px;top:1272.52px">50</div>
<div class="v" style="left:224.66px;top:1272.52px">380</div>
<div class="v" style="left:284.16px;top:1272.52px">589</div>
<div class="c" style="left:15.50px;top:1288.33px;-webkit-text-stroke:0.5px #000;letter-spacing:-0.55px">05</div>
<div class="v" style="left:131.16px;top:1290.52px">6<u>-</u>7<b>/</b>8</div>
<div class="v" style="left:183.77px;top:1290.52px">55</div>
<div class="v" style="left:224.66px;top:1290.52px">460</div>
<div class="v" style="left:284.16px;top:1290.52px">706</div>
<div class="c" style="left:14.92px;top:1306.33px">21 09 06</div>
<div class="v" style="left:131.16px;top:1308.52px">7<u>-</u>1<b>/</b>2</div>
<div class="v" style="left:183.77px;top:1308.52px">60</div>
<div class="v" style="left:224.66px;top:1308.52px">547</div>
<div class="v" style="left:284.16px;top:1308.52px">834</div>
<div class="c" style="left:15.50px;top:1324.33px;-webkit-text-stroke:0.5px #000;letter-spacing:-0.55px">07</div>
<div class="v" style="left:143.39px;top:1326.52px">8</div>
<div class="v" style="left:183.77px;top:1326.52px">65</div>
<div class="v" style="left:224.66px;top:1326.52px">642</div>
<div class="v" style="left:284.16px;top:1326.52px">970</div>
<div class="c" style="left:15.50px;top:1342.33px;-webkit-text-stroke:0.5px #000;letter-spacing:-0.55px">08</div>
<div class="v" style="left:124.93px;top:1344.52px">8<u>-</u>11<b>/</b>16</div>
<div class="v" style="left:183.77px;top:1344.52px">70</div>
<div class="v" style="left:224.66px;top:1344.52px">745</div>
<div class="v" style="left:279.20px;top:1344.52px">1<s>,</s>118</div>
<div class="c" style="left:15.50px;top:1360.33px;-webkit-text-stroke:0.5px #000;letter-spacing:-0.55px">09</div>
<div class="v" style="left:131.16px;top:1362.52px">9<u>-</u>1<b>/</b>4</div>
<div class="v" style="left:183.77px;top:1362.52px">75</div>
<div class="v" style="left:224.66px;top:1362.52px">855</div>
<div class="v" style="left:279.20px;top:1362.52px">1<s>,</s>275</div>
<div class="c" style="left:15.50px;top:1378.33px;-webkit-text-stroke:0.5px #000;letter-spacing:-0.55px">10</div>
<div class="v" style="left:131.16px;top:1380.52px">9<u>-</u>7<b>/</b>8</div>
<div class="v" style="left:183.77px;top:1380.52px">80</div>
<div class="v" style="left:224.66px;top:1380.52px">973</div>
<div class="v" style="left:279.20px;top:1380.52px">1<s>,</s>442</div>
<div class="c" style="left:14.92px;top:1396.33px">21 09 11</div>
<div class="v" style="left:128.05px;top:1398.52px">10<u>-</u>1<b>/</b>2</div>
<div class="v" style="left:183.77px;top:1398.52px">85</div>
<div class="v" style="left:219.70px;top:1398.52px">1<s>,</s>098</div>
<div class="v" style="left:279.20px;top:1398.52px">1<s>,</s>618</div>
<div class="c" style="left:15.50px;top:1414.33px;-webkit-text-stroke:0.5px #000;letter-spacing:-0.55px">12</div>
<div class="v" style="left:128.05px;top:1416.52px">11<u>-</u>1<b>/</b>8</div>
<div class="v" style="left:183.77px;top:1416.52px">90</div>
<div class="v" style="left:219.70px;top:1416.52px">1<s>,</s>231</div>
<div class="v" style="left:279.20px;top:1416.52px">1<s>,</s>804</div>
<div class="c" style="left:15.50px;top:1432.33px;-webkit-text-stroke:0.5px #000;letter-spacing:-0.55px">13</div>
<div class="v" style="left:128.05px;top:1434.52px">11<u>-</u>3<b>/</b>4</div>
<div class="v" style="left:183.77px;top:1434.52px">95</div>
<div class="v" style="left:219.70px;top:1434.52px">1<s>,</s>372</div>
<div class="v" style="left:279.20px;top:1434.52px">2<s>,</s>000</div>
<div class="c" style="left:15.50px;top:1450.33px;-webkit-text-stroke:0.5px #000;letter-spacing:-0.55px">14</div>
<div class="v" style="left:128.05px;top:1452.52px">12<u>-</u>3<b>/</b>8</div>
<div class="v" style="left:180.66px;top:1452.52px">100</div>
<div class="v" style="left:219.70px;top:1452.52px">1<s>,</s>520</div>
<div class="v" style="left:279.20px;top:1452.52px">2<s>,</s>167</div>
<div class="c" style="left:307.42px;top:1216.33px">21 09 31</div>
<div class="v" style="left:436.39px;top:1218.52px">6</div>
<div class="v" style="left:478.27px;top:1218.52px">48</div>
<div class="v" style="left:521.16px;top:1218.52px">267</div>
<div class="c" style="left:308.00px;top:1234.33px;-webkit-text-stroke:0.5px #000;letter-spacing:-0.55px">32</div>
<div class="v" style="left:424.16px;top:1236.52px">6<u>-</u>1<b>/</b>4</div>
<div class="v" style="left:478.27px;top:1236.52px">50</div>
<div class="v" style="left:521.16px;top:1236.52px">295</div>
<div class="c" style="left:308.00px;top:1252.33px;-webkit-text-stroke:0.5px #000;letter-spacing:-0.55px">33</div>
<div class="v" style="left:424.16px;top:1254.52px">6<u>-</u>1<b>/</b>2</div>
<div class="v" style="left:478.27px;top:1254.52px">52</div>
<div class="v" style="left:521.16px;top:1254.52px">339</div>
<div class="c" style="left:308.00px;top:1270.33px;-webkit-text-stroke:0.5px #000;letter-spacing:-0.55px">34</div>
<div class="v" style="left:424.16px;top:1272.52px">6<u>-</u>7<b>/</b>8</div>
<div class="v" style="left:478.27px;top:1272.52px">55</div>
<div class="v" style="left:521.16px;top:1272.52px">418</div>
<div class="c" style="left:308.00px;top:1288.33px;-webkit-text-stroke:0.5px #000;letter-spacing:-0.55px">35</div>
<div class="v" style="left:436.39px;top:1290.52px">7</div>
<div class="v" style="left:478.27px;top:1290.52px">56</div>
<div class="v" style="left:521.16px;top:1290.52px">506</div>
<div class="c" style="left:307.42px;top:1306.33px">21 09 36</div>
<div class="v" style="left:424.16px;top:1308.52px">7<u>-</u>1<b>/</b>2</div>
<div class="v" style="left:478.27px;top:1308.52px">60</div>
<div class="v" style="left:521.16px;top:1308.52px">602</div>
<div class="c" style="left:308.00px;top:1324.33px;-webkit-text-stroke:0.5px #000;letter-spacing:-0.55px">37</div>
<div class="v" style="left:436.39px;top:1326.52px">8</div>
<div class="v" style="left:478.27px;top:1326.52px">65</div>
<div class="v" style="left:521.16px;top:1326.52px">706</div>
<div class="c" style="left:308.00px;top:1342.33px;-webkit-text-stroke:0.5px #000;letter-spacing:-0.55px">38</div>
<div class="v" style="left:424.16px;top:1344.52px">8<u>-</u>1<b>/</b>2</div>
<div class="v" style="left:478.27px;top:1344.52px">68</div>
<div class="v" style="left:521.16px;top:1344.52px">820</div>
<div class="c" style="left:308.00px;top:1360.33px;-webkit-text-stroke:0.5px #000;letter-spacing:-0.55px">39</div>
<div class="v" style="left:417.93px;top:1362.52px">8<u>-</u>11<b>/</b>16</div>
<div class="v" style="left:478.27px;top:1362.52px">70</div>
<div class="v" style="left:521.16px;top:1362.52px">941</div>
<div class="c" style="left:308.00px;top:1378.33px;-webkit-text-stroke:0.5px #000;letter-spacing:-0.55px">40</div>
<div class="v" style="left:436.39px;top:1380.52px">9</div>
<div class="v" style="left:478.27px;top:1380.52px">73</div>
<div class="v" style="left:516.20px;top:1380.52px">1<s>,</s>070</div>
<div class="c" style="left:307.42px;top:1396.33px">21 09 41</div>
<div class="v" style="left:424.16px;top:1398.52px">9<u>-</u>1<b>/</b>4</div>
<div class="v" style="left:478.27px;top:1398.52px">75</div>
<div class="v" style="left:516.20px;top:1398.52px">1<s>,</s>208</div>
<div class="c" style="left:308.00px;top:1414.33px;-webkit-text-stroke:0.5px #000;letter-spacing:-0.55px">42</div>
<div class="v" style="left:424.16px;top:1416.52px">9<u>-</u>1<b>/</b>2</div>
<div class="v" style="left:478.27px;top:1416.52px">77</div>
<div class="v" style="left:516.20px;top:1416.52px">1<s>,</s>354</div>
<div class="c" style="left:308.00px;top:1432.33px;-webkit-text-stroke:0.5px #000;letter-spacing:-0.55px">43</div>
<div class="v" style="left:424.16px;top:1434.52px">9<u>-</u>7<b>/</b>8</div>
<div class="v" style="left:478.27px;top:1434.52px">80</div>
<div class="v" style="left:516.20px;top:1434.52px">1<s>,</s>509</div>
<div class="c" style="left:308.00px;top:1450.33px;-webkit-text-stroke:0.5px #000;letter-spacing:-0.55px">44</div>
<div class="v" style="left:433.27px;top:1452.52px">10</div>
<div class="v" style="left:478.27px;top:1452.52px">81</div>
<div class="v" style="left:516.20px;top:1452.52px">1<s>,</s>672</div>
<i style="left:580px;top:1049px;width:522px;height:78px;background:#adfba6;"></i>
<i style="left:580px;top:1127px;width:522px;height:90px;background:#adfba6;"></i>
<i style="left:582px;top:1217px;width:81px;height:251px;background:#affffe;"></i>
<i style="left:869px;top:1217px;width:86px;height:251px;background:#affffe;"></i>
<i style="left:580px;top:1049px;width:523px;height:2px;background:#000;"></i>
<i style="left:580px;top:1127px;width:523px;height:2px;background:#000;"></i>
<i style="left:580px;top:1146px;width:224px;height:1px;background:#000;"></i>
<i style="left:869px;top:1147px;width:234px;height:1px;background:#000;"></i>
<i style="left:663px;top:1185px;width:87px;height:1px;background:#000;"></i>
<i style="left:955px;top:1186px;width:90px;height:1px;background:#000;"></i>
<i style="left:580px;top:1216px;width:289px;height:1px;background:#000;"></i>
<i style="left:869px;top:1216px;width:234px;height:1px;background:#000;"></i>
<i style="left:580px;top:1306px;width:523px;height:1px;background:#000;"></i>
<i style="left:580px;top:1396px;width:523px;height:1px;background:#000;"></i>
<i style="left:580px;top:1468px;width:523px;height:2px;background:#000;"></i>
<i style="left:663px;top:1146px;width:1px;height:322px;background:#000;"></i>
<i style="left:715px;top:1185px;width:1px;height:283px;background:#000;"></i>
<i style="left:750px;top:1146px;width:1px;height:322px;background:#000;"></i>
<i style="left:804px;top:1127px;width:2px;height:341px;background:#000;"></i>
<i style="left:867px;top:1127px;width:2px;height:341px;background:#000;"></i>
<i style="left:955px;top:1147px;width:1px;height:321px;background:#000;"></i>
<i style="left:1009px;top:1186px;width:1px;height:282px;background:#000;"></i>
<i style="left:1045px;top:1147px;width:1px;height:321px;background:#000;"></i>
<div style="left:633.85px;top:1130.54px;font:normal 400 13.3px/13.3px 'Liberation Sans';transform:scale(1.131,1.000);transform-origin:0 11.26px;color:#083008;-webkit-text-stroke:0.2px #083008;">200 mtrs/ 110 fms</div>
<div style="left:926.06px;top:1131.34px;font:normal 400 13.3px/13.3px 'Liberation Sans';transform:scale(1.115,1.000);transform-origin:0 11.26px;color:#083008;-webkit-text-stroke:0.2px #083008;">220 mtrs/ 120 fms</div>
<div style="left:597.20px;top:1175.71px;font:normal 400 14.4px/14.4px 'Liberation Sans';transform:scale(0.902,1.000);transform-origin:0 12.19px;color:#083008;-webkit-text-stroke:0.2px #083008;">CODE</div>
<div style="left:889.20px;top:1176.91px;font:normal 400 14.4px/14.4px 'Liberation Sans';transform:scale(0.902,1.000);transform-origin:0 12.19px;color:#083008;-webkit-text-stroke:0.2px #083008;">CODE</div>
<div style="left:695.57px;top:1157.63px;font:normal 400 14.5px/14.5px 'Liberation Sans';transform:scale(0.889,1.000);transform-origin:0 12.27px;color:#083008;-webkit-text-stroke:0.2px #083008;">Size</div>
<div style="left:671.19px;top:1188.48px;font:normal 400 12.9px/12.9px 'Liberation Sans';transform:scale(1.106,1.000);transform-origin:0 10.92px;color:#083008;-webkit-text-stroke:0.2px #083008;">Circle</div>
<div style="left:675.69px;top:1202.31px;font:normal 400 14.4px/14.4px 'Liberation Sans';transform:scale(1.009,1.000);transform-origin:0 12.19px;color:#083008;-webkit-text-stroke:0.2px #083008;">Inch</div>
<div style="left:722.88px;top:1188.48px;font:normal 400 12.9px/12.9px 'Liberation Sans';transform:scale(1.086,1.000);transform-origin:0 10.92px;color:#083008;-webkit-text-stroke:0.2px #083008;">Dia</div>
<div style="left:721.18px;top:1200.17px;font:normal 400 13.5px/13.5px 'Liberation Sans';transform:scale(1.049,1.000);transform-origin:0 11.43px;color:#083008;-webkit-text-stroke:0.2px #083008;">mm</div>
<div style="left:754.22px;top:1161.73px;font:normal 400 14.2px/14.2px 'Liberation Sans';transform:scale(1.065,1.000);transform-origin:0 12.02px;color:#083008;-webkit-text-stroke:0.2px #083008;">Weight</div>
<div style="left:755.69px;top:1185.41px;font:normal 400 14.4px/14.4px 'Liberation Sans';transform:scale(1.080,1.000);transform-origin:0 12.19px;color:#083008;-webkit-text-stroke:0.2px #083008;">kg/coil</div>
<div style="left:989.07px;top:1158.63px;font:normal 400 14.5px/14.5px 'Liberation Sans';transform:scale(0.889,1.000);transform-origin:0 12.27px;color:#083008;-webkit-text-stroke:0.2px #083008;">Size</div>
<div style="left:964.19px;top:1189.48px;font:normal 400 12.9px/12.9px 'Liberation Sans';transform:scale(1.106,1.000);transform-origin:0 10.92px;color:#083008;-webkit-text-stroke:0.2px #083008;">Circle</div>
<div style="left:968.69px;top:1203.31px;font:normal 400 14.4px/14.4px 'Liberation Sans';transform:scale(1.009,1.000);transform-origin:0 12.19px;color:#083008;-webkit-text-stroke:0.2px #083008;">Inch</div>
<div style="left:1017.38px;top:1189.48px;font:normal 400 12.9px/12.9px 'Liberation Sans';transform:scale(1.086,1.000);transform-origin:0 10.92px;color:#083008;-webkit-text-stroke:0.2px #083008;">Dia</div>
<div style="left:1015.68px;top:1201.17px;font:normal 400 13.5px/13.5px 'Liberation Sans';transform:scale(1.049,1.000);transform-origin:0 11.43px;color:#083008;-webkit-text-stroke:0.2px #083008;">mm</div>
<div style="left:1050.12px;top:1162.73px;font:normal 400 14.2px/14.2px 'Liberation Sans';transform:scale(1.065,1.000);transform-origin:0 12.02px;color:#083008;-webkit-text-stroke:0.2px #083008;">Weight</div>
<div style="left:1051.59px;top:1186.41px;font:normal 400 14.4px/14.4px 'Liberation Sans';transform:scale(1.080,1.000);transform-origin:0 12.19px;color:#083008;-webkit-text-stroke:0.2px #083008;">kg/coil</div>
<div style="left:806.94px;top:1150.54px;font:normal 400 13.3px/13.3px 'Liberation Sans';transform:scale(1.086,1.000);transform-origin:0 11.26px;color:#083008;-webkit-text-stroke:0.2px #083008;">Breaking</div>
<div style="left:808.73px;top:1169.37px;font:normal 400 13.5px/13.5px 'Liberation Sans';transform:scale(1.067,1.000);transform-origin:0 11.43px;color:#083008;-webkit-text-stroke:0.2px #083008;">Strength</div>
<div style="left:819.76px;top:1187.29px;font:normal 400 13.6px/13.6px 'Liberation Sans';transform:scale(1.070,1.000);transform-origin:0 11.51px;color:#083008;-webkit-text-stroke:0.2px #083008;">Tons</div>
<div style="left:611.66px;top:1077.57px;font:normal 400 20px/20px 'Liberation Sans';color:#000;transform:scale(1.148,1.000);transform-origin:0 16.93px;-webkit-text-stroke:0.55px #000;">Doubler</div>
<div style="left:842.76px;top:1067.52px;font:normal 700 16.4px/16.4px 'Liberation Sans';color:#000;transform:scale(0.973,1.000);transform-origin:0 13.88px;">In Brade :</div>
<div style="left:919.05px;top:1067.52px;font:normal 700 16.4px/16.4px 'Liberation Sans';color:#000;transform:scale(0.987,1.000);transform-origin:0 13.88px;">Nylon</div>
<div style="left:997.15px;top:1067.52px;font:normal 700 16.4px/16.4px 'Liberation Sans';color:#000;transform:scale(0.992,1.000);transform-origin:0 13.88px;">: 16 Strand</div>
<div style="left:830.26px;top:1089.92px;font:normal 700 16.4px/16.4px 'Liberation Sans';color:#000;transform:scale(0.972,1.000);transform-origin:0 13.88px;">Out Brade :</div>
<div style="left:920.57px;top:1089.92px;font:normal 700 16.4px/16.4px 'Liberation Sans';color:#000;transform:scale(0.963,1.000);transform-origin:0 13.88px;">Ployester</div>
<div style="left:997.15px;top:1089.92px;font:normal 700 16.4px/16.4px 'Liberation Sans';color:#000;">: 64 Strand</div>
<div class="c" style="left:557.92px;top:1219.33px">21 09 51</div>
<div class="v" style="left:686.39px;top:1221.52px">5</div>
<div class="v" style="left:726.77px;top:1221.52px">40</div>
<div class="v" style="left:767.66px;top:1221.52px">238</div>
<div class="v" style="left:824.81px;top:1221.52px">39<s>.</s>4</div>
<div class="c" style="left:558.50px;top:1237.33px;-webkit-text-stroke:0.5px #000;letter-spacing:-0.55px">52</div>
<div class="v" style="left:674.16px;top:1239.52px">5<u>-</u>1<b>/</b>4</div>
<div class="v" style="left:726.77px;top:1239.52px">42</div>
<div class="v" style="left:767.66px;top:1239.52px">263</div>
<div class="v" style="left:824.81px;top:1239.52px">43<s>.</s>2</div>
<div class="c" style="left:558.50px;top:1255.33px;-webkit-text-stroke:0.5px #000;letter-spacing:-0.55px">53</div>
<div class="v" style="left:674.16px;top:1257.52px">5<u>-</u>5<b>/</b>8</div>
<div class="v" style="left:726.77px;top:1257.52px">45</div>
<div class="v" style="left:767.66px;top:1257.52px">302</div>
<div class="v" style="left:824.81px;top:1257.52px">49<s>.</s>3</div>
<div class="c" style="left:558.50px;top:1273.33px;-webkit-text-stroke:0.5px #000;letter-spacing:-0.55px">54</div>
<div class="v" style="left:674.16px;top:1275.52px">6<u>-</u>1<b>/</b>4</div>
<div class="v" style="left:726.77px;top:1275.52px">50</div>
<div class="v" style="left:767.66px;top:1275.52px">372</div>
<div class="v" style="left:824.81px;top:1275.52px">60<s>.</s>2</div>
<div class="c" style="left:558.50px;top:1291.33px;-webkit-text-stroke:0.5px #000;letter-spacing:-0.55px">55</div>
<div class="v" style="left:674.16px;top:1293.52px">6<u>-</u>7<b>/</b>8</div>
<div class="v" style="left:726.77px;top:1293.52px">55</div>
<div class="v" style="left:767.66px;top:1293.52px">450</div>
<div class="v" style="left:824.81px;top:1293.52px">72<s>.</s>1</div>
<div class="c" style="left:557.92px;top:1309.33px">21 09 56</div>
<div class="v" style="left:674.16px;top:1311.52px">7<u>-</u>1<b>/</b>2</div>
<div class="v" style="left:726.77px;top:1311.52px">60</div>
<div class="v" style="left:767.66px;top:1311.52px">536</div>
<div class="v" style="left:824.81px;top:1311.52px">85<s>.</s>1</div>
<div class="c" style="left:558.50px;top:1327.33px;-webkit-text-stroke:0.5px #000;letter-spacing:-0.55px">57</div>
<div class="v" style="left:686.39px;top:1329.52px">8</div>
<div class="v" style="left:726.77px;top:1329.52px">65</div>
<div class="v" style="left:767.66px;top:1329.52px">629</div>
<div class="v" style="left:824.81px;top:1329.52px">99<s>.</s>1</div>
<div class="c" style="left:558.50px;top:1345.33px;-webkit-text-stroke:0.5px #000;letter-spacing:-0.55px">58</div>
<div class="v" style="left:667.93px;top:1347.52px">8<u>-</u>11<b>/</b>16</div>
<div class="v" style="left:726.77px;top:1347.52px">70</div>
<div class="v" style="left:767.66px;top:1347.52px">730</div>
<div class="v" style="left:821.70px;top:1347.52px">114<s>.</s>0</div>
<div class="c" style="left:558.50px;top:1363.33px;-webkit-text-stroke:0.5px #000;letter-spacing:-0.55px">59</div>
<div class="v" style="left:674.16px;top:1365.52px">9<u>-</u>1<b>/</b>4</div>
<div class="v" style="left:726.77px;top:1365.52px">75</div>
<div class="v" style="left:767.66px;top:1365.52px">838</div>
<div class="v" style="left:821.70px;top:1365.52px">130<s>.</s>0</div>
<div class="c" style="left:558.50px;top:1381.33px;-webkit-text-stroke:0.5px #000;letter-spacing:-0.55px">60</div>
<div class="v" style="left:674.16px;top:1383.52px">9<u>-</u>7<b>/</b>8</div>
<div class="v" style="left:726.77px;top:1383.52px">80</div>
<div class="v" style="left:767.66px;top:1383.52px">953</div>
<div class="v" style="left:821.70px;top:1383.52px">147<s>.</s>0</div>
<div class="c" style="left:557.92px;top:1399.33px">21 09 61</div>
<div class="v" style="left:671.05px;top:1401.52px">10<u>-</u>1<b>/</b>2</div>
<div class="v" style="left:726.77px;top:1401.52px">85</div>
<div class="v" style="left:762.70px;top:1401.52px">1<s>,</s>076</div>
<div class="v" style="left:821.70px;top:1401.52px">165<s>.</s>0</div>
<div class="c" style="left:558.50px;top:1417.33px;-webkit-text-stroke:0.5px #000;letter-spacing:-0.55px">62</div>
<div class="v" style="left:671.05px;top:1419.52px">11<u>-</u>1<b>/</b>8</div>
<div class="v" style="left:726.77px;top:1419.52px">90</div>
<div class="v" style="left:762.70px;top:1419.52px">1<s>,</s>206</div>
<div class="v" style="left:821.70px;top:1419.52px">184<s>.</s>0</div>
<div class="c" style="left:558.50px;top:1435.33px;-webkit-text-stroke:0.5px #000;letter-spacing:-0.55px">63</div>
<div class="v" style="left:671.05px;top:1437.52px">11<u>-</u>3<b>/</b>4</div>
<div class="v" style="left:726.77px;top:1437.52px">95</div>
<div class="v" style="left:762.70px;top:1437.52px">1<s>,</s>344</div>
<div class="v" style="left:821.70px;top:1437.52px">204<s>.</s>0</div>
<div class="c" style="left:558.50px;top:1453.33px;-webkit-text-stroke:0.5px #000;letter-spacing:-0.55px">64</div>
<div class="v" style="left:671.05px;top:1455.52px">12<u>-</u>3<b>/</b>8</div>
<div class="v" style="left:723.66px;top:1455.52px">100</div>
<div class="v" style="left:762.70px;top:1455.52px">1<s>,</s>489</div>
<div class="v" style="left:821.70px;top:1455.52px">225<s>.</s>0</div>
<div class="c" style="left:850.42px;top:1219.33px">21 09 71</div>
<div class="v" style="left:979.39px;top:1221.52px">6</div>
<div class="v" style="left:1021.27px;top:1221.52px">48</div>
<div class="v" style="left:1064.16px;top:1221.52px">262</div>
<div class="c" style="left:851.00px;top:1237.33px;-webkit-text-stroke:0.5px #000;letter-spacing:-0.55px">72</div>
<div class="v" style="left:967.16px;top:1239.52px">6<u>-</u>1<b>/</b>4</div>
<div class="v" style="left:1021.27px;top:1239.52px">50</div>
<div class="v" style="left:1064.16px;top:1239.52px">289</div>
<div class="c" style="left:851.00px;top:1255.33px;-webkit-text-stroke:0.5px #000;letter-spacing:-0.55px">73</div>
<div class="v" style="left:967.16px;top:1257.52px">6<u>-</u>1<b>/</b>2</div>
<div class="v" style="left:1021.27px;top:1257.52px">52</div>
<div class="v" style="left:1064.16px;top:1257.52px">332</div>
<div class="c" style="left:851.00px;top:1273.33px;-webkit-text-stroke:0.5px #000;letter-spacing:-0.55px">74</div>
<div class="v" style="left:967.16px;top:1275.52px">6<u>-</u>7<b>/</b>8</div>
<div class="v" style="left:1021.27px;top:1275.52px">55</div>
<div class="v" style="left:1064.16px;top:1275.52px">409</div>
<div class="c" style="left:851.00px;top:1291.33px;-webkit-text-stroke:0.5px #000;letter-spacing:-0.55px">75</div>
<div class="v" style="left:979.39px;top:1293.52px">7</div>
<div class="v" style="left:1021.27px;top:1293.52px">56</div>
<div class="v" style="left:1064.16px;top:1293.52px">495</div>
<div class="c" style="left:850.42px;top:1309.33px">21 09 76</div>
<div class="v" style="left:967.16px;top:1311.52px">7<u>-</u>1<b>/</b>2</div>
<div class="v" style="left:1021.27px;top:1311.52px">60</div>
<div class="v" style="left:1064.16px;top:1311.52px">590</div>
<div class="c" style="left:851.00px;top:1327.33px;-webkit-text-stroke:0.5px #000;letter-spacing:-0.55px">77</div>
<div class="v" style="left:979.39px;top:1329.52px">8</div>
<div class="v" style="left:1021.27px;top:1329.52px">65</div>
<div class="v" style="left:1064.16px;top:1329.52px">692</div>
<div class="c" style="left:851.00px;top:1345.33px;-webkit-text-stroke:0.5px #000;letter-spacing:-0.55px">78</div>
<div class="v" style="left:967.16px;top:1347.52px">8<u>-</u>1<b>/</b>2</div>
<div class="v" style="left:1021.27px;top:1347.52px">68</div>
<div class="v" style="left:1064.16px;top:1347.52px">803</div>
<div class="c" style="left:851.00px;top:1363.33px;-webkit-text-stroke:0.5px #000;letter-spacing:-0.55px">79</div>
<div class="v" style="left:960.93px;top:1365.52px">8<u>-</u>11<b>/</b>16</div>
<div class="v" style="left:1021.27px;top:1365.52px">70</div>
<div class="v" style="left:1064.16px;top:1365.52px">922</div>
<div class="c" style="left:851.00px;top:1381.33px;-webkit-text-stroke:0.5px #000;letter-spacing:-0.55px">80</div>
<div class="v" style="left:979.39px;top:1383.52px">9</div>
<div class="v" style="left:1021.27px;top:1383.52px">73</div>
<div class="v" style="left:1059.20px;top:1383.52px">1<s>,</s>048</div>
<div class="c" style="left:850.42px;top:1399.33px">21 09 81</div>
<div class="v" style="left:967.16px;top:1401.52px">9<u>-</u>1<b>/</b>4</div>
<div class="v" style="left:1021.27px;top:1401.52px">75</div>
<div class="v" style="left:1059.20px;top:1401.52px">1<s>,</s>184</div>
<div class="c" style="left:851.00px;top:1417.33px;-webkit-text-stroke:0.5px #000;letter-spacing:-0.55px">82</div>
<div class="v" style="left:967.16px;top:1419.52px">9<u>-</u>1<b>/</b>2</div>
<div class="v" style="left:1021.27px;top:1419.52px">77</div>
<div class="v" style="left:1059.20px;top:1419.52px">1<s>,</s>327</div>
<div class="c" style="left:851.00px;top:1435.33px;-webkit-text-stroke:0.5px #000;letter-spacing:-0.55px">83</div>
<div class="v" style="left:967.16px;top:1437.52px">9<u>-</u>7<b>/</b>8</div>
<div class="v" style="left:1021.27px;top:1437.52px">80</div>
<div class="v" style="left:1059.20px;top:1437.52px">1<s>,</s>478</div>
<div class="c" style="left:851.00px;top:1453.33px;-webkit-text-stroke:0.5px #000;letter-spacing:-0.55px">84</div>
<div class="v" style="left:976.27px;top:1455.52px">10</div>
<div class="v" style="left:1021.27px;top:1455.52px">81</div>
<div class="v" style="left:1059.20px;top:1455.52px">1<s>,</s>638</div>
<svg style="position:absolute;left:0;top:0" width="1152" height="160" viewBox="0 0 1152 160">
<defs>
<linearGradient id="bg" x1="0" y1="0" x2="0" y2="1"><stop offset="0" stop-color="#06088e"/><stop offset="0.3" stop-color="#080c9c"/><stop offset="0.75" stop-color="#1224c8"/><stop offset="1" stop-color="#1832d8"/></linearGradient>
<linearGradient id="rp" x1="0" y1="0" x2="0" y2="1"><stop offset="0" stop-color="#e9d6c6"/><stop offset="0.25" stop-color="#fbf6ea"/><stop offset="0.75" stop-color="#f7efdc"/><stop offset="1" stop-color="#e4cdb8"/></linearGradient>
<pattern id="pd" width="6" height="6" patternUnits="userSpaceOnUse" patternTransform="rotate(40)"><rect width="6" height="6" fill="#fff"/><rect width="6" height="2.2" fill="#000"/></pattern>
<pattern id="pu" width="6" height="6" patternUnits="userSpaceOnUse" patternTransform="rotate(-40)"><rect width="6" height="6" fill="#fff"/><rect width="6" height="2.2" fill="#000"/></pattern>
<pattern id="pd2" width="5" height="5" patternUnits="userSpaceOnUse" patternTransform="rotate(45)"><rect width="5" height="5" fill="#fff"/><rect width="5" height="1.6" fill="#000"/></pattern>
<pattern id="pu2" width="5" height="5" patternUnits="userSpaceOnUse" patternTransform="rotate(-45)"><rect width="5" height="5" fill="#fff"/><rect width="5" height="1.6" fill="#000"/></pattern>
</defs>
<rect x="571" y="29" width="180" height="98" fill="url(#bg)"/>
<path d="M664,58 L680,57 L700,56.5 L720,57.5 L740,56.5 L751,57.5 L751,101 L730,102 L700,101.5 L680,102 L664,103 Z" fill="#fffefb"/>
<path d="M571.0,46.0 L576.0,44.2 L586.0,45.5 L596.0,43.7 L606.0,45.0 L616.0,43.2 L626.0,44.5 L636.0,42.7 L646.0,44.0 L656.0,42.2 L666.0,43.5 L668.0,41.5 L668.0,116.5 L668.0,115.4 L658.3,116.2 L648.6,114.3 L638.9,115.1 L629.2,113.2 L619.5,114.0 L609.8,112.1 L600.1,113.0 L590.4,111.0 L580.7,111.8 L571.0,109.9 Z" fill="#fffdf8"/>
<ellipse cx="576.0" cy="51.5" rx="4.5" ry="3.2" fill="#8e5a52" opacity="0.6"/>
<ellipse cx="578.0" cy="106.0" rx="4.5" ry="3" fill="#7a4a3a" opacity="0.6"/>
<ellipse cx="588.2" cy="51.3" rx="4.5" ry="3.2" fill="#8e5a52" opacity="0.6"/>
<ellipse cx="590.2" cy="106.6" rx="4.5" ry="3" fill="#7a4a3a" opacity="0.6"/>
<ellipse cx="600.4" cy="51.1" rx="4.5" ry="3.2" fill="#8e5a52" opacity="0.6"/>
<ellipse cx="602.4" cy="107.2" rx="4.5" ry="3" fill="#7a4a3a" opacity="0.6"/>
<ellipse cx="612.6" cy="50.9" rx="4.5" ry="3.2" fill="#8e5a52" opacity="0.6"/>
<ellipse cx="614.6" cy="107.8" rx="4.5" ry="3" fill="#7a4a3a" opacity="0.6"/>
<ellipse cx="624.8" cy="50.7" rx="4.5" ry="3.2" fill="#8e5a52" opacity="0.6"/>
<ellipse cx="626.8" cy="108.4" rx="4.5" ry="3" fill="#7a4a3a" opacity="0.6"/>
<ellipse cx="637.0" cy="50.5" rx="4.5" ry="3.2" fill="#8e5a52" opacity="0.6"/>
<ellipse cx="639.0" cy="109.0" rx="4.5" ry="3" fill="#7a4a3a" opacity="0.6"/>
<ellipse cx="649.2" cy="50.3" rx="4.5" ry="3.2" fill="#8e5a52" opacity="0.6"/>
<ellipse cx="651.2" cy="109.6" rx="4.5" ry="3" fill="#7a4a3a" opacity="0.6"/>
<ellipse cx="661.4" cy="50.1" rx="4.5" ry="3.2" fill="#8e5a52" opacity="0.6"/>
<ellipse cx="663.4" cy="110.2" rx="4.5" ry="3" fill="#7a4a3a" opacity="0.6"/>
<ellipse cx="595.9" cy="80.9" rx="1.2" ry="1.0" fill="#a0783e" opacity="0.52"/>
<ellipse cx="580.0" cy="58.6" rx="1.6" ry="0.8" fill="#a0783e" opacity="0.38"/>
<ellipse cx="665.6" cy="77.8" rx="1.6" ry="0.9" fill="#a0783e" opacity="0.52"/>
<ellipse cx="587.9" cy="84.7" rx="1.7" ry="0.9" fill="#a0783e" opacity="0.56"/>
<ellipse cx="635.8" cy="60.7" rx="1.6" ry="1.0" fill="#a0783e" opacity="0.41"/>
<ellipse cx="576.9" cy="94.4" rx="1.3" ry="1.0" fill="#a0783e" opacity="0.61"/>
<ellipse cx="639.7" cy="96.7" rx="1.2" ry="1.1" fill="#a0783e" opacity="0.46"/>
<ellipse cx="660.1" cy="94.9" rx="0.9" ry="0.7" fill="#a0783e" opacity="0.38"/>
<ellipse cx="662.8" cy="76.3" rx="1.4" ry="0.8" fill="#a0783e" opacity="0.48"/>
<ellipse cx="609.5" cy="72.7" rx="1.4" ry="1.0" fill="#a0783e" opacity="0.62"/>
<ellipse cx="636.7" cy="97.0" rx="1.7" ry="1.2" fill="#a0783e" opacity="0.53"/>
<ellipse cx="589.0" cy="94.1" rx="1.8" ry="1.1" fill="#a0783e" opacity="0.50"/>
<ellipse cx="639.7" cy="66.9" rx="1.6" ry="0.9" fill="#a0783e" opacity="0.40"/>
<ellipse cx="579.8" cy="93.9" rx="1.8" ry="0.7" fill="#a0783e" opacity="0.58"/>
<ellipse cx="611.8" cy="64.3" rx="1.1" ry="1.1" fill="#a0783e" opacity="0.61"/>
<ellipse cx="578.1" cy="83.8" rx="0.8" ry="1.0" fill="#a0783e" opacity="0.42"/>
<ellipse cx="655.0" cy="99.2" rx="1.3" ry="1.2" fill="#a0783e" opacity="0.41"/>
<ellipse cx="581.1" cy="83.2" rx="0.8" ry="0.7" fill="#a0783e" opacity="0.44"/>
<ellipse cx="630.2" cy="64.6" rx="0.8" ry="1.1" fill="#a0783e" opacity="0.41"/>
<ellipse cx="662.2" cy="95.7" rx="1.2" ry="0.9" fill="#a0783e" opacity="0.48"/>
<ellipse cx="633.2" cy="83.0" rx="1.4" ry="1.0" fill="#a0783e" opacity="0.63"/>
<ellipse cx="620.6" cy="76.1" rx="1.5" ry="0.7" fill="#a0783e" opacity="0.41"/>
<ellipse cx="664.0" cy="79.9" rx="1.3" ry="0.6" fill="#a0783e" opacity="0.45"/>
<ellipse cx="627.4" cy="58.8" rx="1.4" ry="1.0" fill="#a0783e" opacity="0.32"/>
<ellipse cx="631.7" cy="77.6" rx="1.5" ry="0.8" fill="#a0783e" opacity="0.55"/>
<ellipse cx="641.9" cy="58.9" rx="0.9" ry="1.0" fill="#a0783e" opacity="0.64"/>
<ellipse cx="597.1" cy="77.2" rx="1.4" ry="0.8" fill="#a0783e" opacity="0.43"/>
<ellipse cx="602.8" cy="73.5" rx="1.4" ry="0.8" fill="#a0783e" opacity="0.43"/>
<ellipse cx="645.0" cy="59.1" rx="1.4" ry="1.0" fill="#a0783e" opacity="0.41"/>
<ellipse cx="594.5" cy="91.8" rx="1.0" ry="0.7" fill="#a0783e" opacity="0.45"/>
<ellipse cx="638.2" cy="62.3" rx="1.1" ry="0.8" fill="#a0783e" opacity="0.59"/>
<ellipse cx="614.3" cy="93.9" rx="1.0" ry="0.8" fill="#a0783e" opacity="0.53"/>
<ellipse cx="655.4" cy="76.9" rx="1.0" ry="0.7" fill="#a0783e" opacity="0.49"/>
<ellipse cx="591.6" cy="91.9" rx="1.6" ry="0.7" fill="#a0783e" opacity="0.40"/>
<ellipse cx="648.3" cy="85.0" rx="1.6" ry="0.8" fill="#a0783e" opacity="0.35"/>
<ellipse cx="600.9" cy="91.3" rx="1.1" ry="0.8" fill="#a0783e" opacity="0.45"/>
<ellipse cx="612.6" cy="75.2" rx="1.7" ry="0.7" fill="#a0783e" opacity="0.30"/>
<ellipse cx="660.8" cy="95.0" rx="1.8" ry="0.9" fill="#a0783e" opacity="0.63"/>
<ellipse cx="659.3" cy="67.3" rx="1.5" ry="1.1" fill="#a0783e" opacity="0.53"/>
<ellipse cx="621.7" cy="70.1" rx="1.1" ry="0.7" fill="#a0783e" opacity="0.32"/>
<ellipse cx="628.2" cy="70.1" rx="1.6" ry="0.6" fill="#a0783e" opacity="0.62"/>
<ellipse cx="637.8" cy="96.8" rx="1.7" ry="1.1" fill="#a0783e" opacity="0.50"/>
<ellipse cx="575.2" cy="89.3" rx="1.0" ry="0.8" fill="#a0783e" opacity="0.53"/>
<ellipse cx="622.3" cy="75.4" rx="1.7" ry="1.0" fill="#a0783e" opacity="0.42"/>
<ellipse cx="597.2" cy="94.2" rx="1.3" ry="1.1" fill="#a0783e" opacity="0.42"/>
<ellipse cx="655" cy="90" rx="5" ry="6" fill="#d9a84a" opacity="0.45"/>
<ellipse cx="650" cy="75" rx="5" ry="4" fill="#c89860" opacity="0.35"/>
<ellipse cx="709.5" cy="61.7" rx="2" ry="1" fill="#9a8ab0" opacity="0.5"/>
<ellipse cx="739.2" cy="59.9" rx="2" ry="1" fill="#9a8ab0" opacity="0.5"/>
<ellipse cx="738.0" cy="63.6" rx="2" ry="1" fill="#9a8ab0" opacity="0.5"/>
<ellipse cx="738.7" cy="63.1" rx="2" ry="1" fill="#9a8ab0" opacity="0.5"/>
<ellipse cx="700.4" cy="62.1" rx="2" ry="1" fill="#9a8ab0" opacity="0.5"/>
<ellipse cx="741.4" cy="59.2" rx="2" ry="1" fill="#9a8ab0" opacity="0.5"/>
<clipPath id="co"><rect x="821" y="48" width="84" height="73"/></clipPath>
<clipPath id="ci"><rect x="905" y="65" width="141" height="33"/></clipPath>
<rect x="821" y="48" width="84" height="73" fill="#000"/>
<g clip-path="url(#co)" fill="#fff" stroke="#000" stroke-width="1.15"><ellipse cx="816.0" cy="53" rx="9" ry="3.6" transform="rotate(-35 816.0 53)"/><ellipse cx="824.0" cy="53" rx="9" ry="3.6" transform="rotate(-35 824.0 53)"/><ellipse cx="832.0" cy="53" rx="9" ry="3.6" transform="rotate(-35 832.0 53)"/><ellipse cx="840.0" cy="53" rx="9" ry="3.6" transform="rotate(-35 840.0 53)"/><ellipse cx="848.0" cy="53" rx="9" ry="3.6" transform="rotate(-35 848.0 53)"/><ellipse cx="856.0" cy="53" rx="9" ry="3.6" transform="rotate(-35 856.0 53)"/><ellipse cx="864.0" cy="53" rx="9" ry="3.6" transform="rotate(-35 864.0 53)"/><ellipse cx="872.0" cy="53" rx="9" ry="3.6" transform="rotate(-35 872.0 53)"/><ellipse cx="880.0" cy="53" rx="9" ry="3.6" transform="rotate(-35 880.0 53)"/><ellipse cx="888.0" cy="53" rx="9" ry="3.6" transform="rotate(-35 888.0 53)"/><ellipse cx="896.0" cy="53" rx="9" ry="3.6" transform="rotate(-35 896.0 53)"/><ellipse cx="904.0" cy="53" rx="9" ry="3.6" transform="rotate(-35 904.0 53)"/><ellipse cx="912.0" cy="53" rx="9" ry="3.6" transform="rotate(-35 912.0 53)"/><ellipse cx="812.0" cy="69" rx="15" ry="5.0" transform="rotate(38 812.0 69)"/><ellipse cx="821.0" cy="69" rx="15" ry="5.0" transform="rotate(38 821.0 69)"/><ellipse cx="830.0" cy="69" rx="15" ry="5.0" transform="rotate(38 830.0 69)"/><ellipse cx="839.0" cy="69" rx="15" ry="5.0" transform="rotate(38 839.0 69)"/><ellipse cx="848.0" cy="69" rx="15" ry="5.0" transform="rotate(38 848.0 69)"/><ellipse cx="857.0" cy="69" rx="15" ry="5.0" transform="rotate(38 857.0 69)"/><ellipse cx="866.0" cy="69" rx="15" ry="5.0" transform="rotate(38 866.0 69)"/><ellipse cx="875.0" cy="69" rx="15" ry="5.0" transform="rotate(38 875.0 69)"/><ellipse cx="884.0" cy="69" rx="15" ry="5.0" transform="rotate(38 884.0 69)"/><ellipse cx="893.0" cy="69" rx="15" ry="5.0" transform="rotate(38 893.0 69)"/><ellipse cx="902.0" cy="69" rx="15" ry="5.0" transform="rotate(38 902.0 69)"/><ellipse cx="911.0" cy="69" rx="15" ry="5.0" transform="rotate(38 911.0 69)"/><ellipse cx="816.5" cy="90" rx="15" ry="5.0" transform="rotate(-38 816.5 90)"/><ellipse cx="825.5" cy="90" rx="15" ry="5.0" transform="rotate(-38 825.5 90)"/><ellipse cx="834.5" cy="90" rx="15" ry="5.0" transform="rotate(-38 834.5 90)"/><ellipse cx="843.5" cy="90" rx="15" ry="5.0" transform="rotate(-38 843.5 90)"/><ellipse cx="852.5" cy="90" rx="15" ry="5.0" transform="rotate(-38 852.5 90)"/><ellipse cx="861.5" cy="90" rx="15" ry="5.0" transform="rotate(-38 861.5 90)"/><ellipse cx="870.5" cy="90" rx="15" ry="5.0" transform="rotate(-38 870.5 90)"/><ellipse cx="879.5" cy="90" rx="15" ry="5.0" transform="rotate(-38 879.5 90)"/><ellipse cx="888.5" cy="90" rx="15" ry="5.0" transform="rotate(-38 888.5 90)"/><ellipse cx="897.5" cy="90" rx="15" ry="5.0" transform="rotate(-38 897.5 90)"/><ellipse cx="906.5" cy="90" rx="15" ry="5.0" transform="rotate(-38 906.5 90)"/><ellipse cx="812.0" cy="107" rx="11" ry="4.2" transform="rotate(35 812.0 107)"/><ellipse cx="820.5" cy="107" rx="11" ry="4.2" transform="rotate(35 820.5 107)"/><ellipse cx="829.0" cy="107" rx="11" ry="4.2" transform="rotate(35 829.0 107)"/><ellipse cx="837.5" cy="107" rx="11" ry="4.2" transform="rotate(35 837.5 107)"/><ellipse cx="846.0" cy="107" rx="11" ry="4.2" transform="rotate(35 846.0 107)"/><ellipse cx="854.5" cy="107" rx="11" ry="4.2" transform="rotate(35 854.5 107)"/><ellipse cx="863.0" cy="107" rx="11" ry="4.2" transform="rotate(35 863.0 107)"/><ellipse cx="871.5" cy="107" rx="11" ry="4.2" transform="rotate(35 871.5 107)"/><ellipse cx="880.0" cy="107" rx="11" ry="4.2" transform="rotate(35 880.0 107)"/><ellipse cx="888.5" cy="107" rx="11" ry="4.2" transform="rotate(35 888.5 107)"/><ellipse cx="897.0" cy="107" rx="11" ry="4.2" transform="rotate(35 897.0 107)"/><ellipse cx="905.5" cy="107" rx="11" ry="4.2" transform="rotate(35 905.5 107)"/><ellipse cx="914.0" cy="107" rx="11" ry="4.2" transform="rotate(35 914.0 107)"/><ellipse cx="816.0" cy="118" rx="8" ry="3" transform="rotate(-35 816.0 118)"/><ellipse cx="824.0" cy="118" rx="8" ry="3" transform="rotate(-35 824.0 118)"/><ellipse cx="832.0" cy="118" rx="8" ry="3" transform="rotate(-35 832.0 118)"/><ellipse cx="840.0" cy="118" rx="8" ry="3" transform="rotate(-35 840.0 118)"/><ellipse cx="848.0" cy="118" rx="8" ry="3" transform="rotate(-35 848.0 118)"/><ellipse cx="856.0" cy="118" rx="8" ry="3" transform="rotate(-35 856.0 118)"/><ellipse cx="864.0" cy="118" rx="8" ry="3" transform="rotate(-35 864.0 118)"/><ellipse cx="872.0" cy="118" rx="8" ry="3" transform="rotate(-35 872.0 118)"/><ellipse cx="880.0" cy="118" rx="8" ry="3" transform="rotate(-35 880.0 118)"/><ellipse cx="888.0" cy="118" rx="8" ry="3" transform="rotate(-35 888.0 118)"/><ellipse cx="896.0" cy="118" rx="8" ry="3" transform="rotate(-35 896.0 118)"/><ellipse cx="904.0" cy="118" rx="8" ry="3" transform="rotate(-35 904.0 118)"/><ellipse cx="912.0" cy="118" rx="8" ry="3" transform="rotate(-35 912.0 118)"/></g>
<rect x="821" y="48" width="84" height="73" fill="none" stroke="#000" stroke-width="1.6"/>
<rect x="905" y="65" width="141" height="33" fill="#000"/>
<g clip-path="url(#ci)" fill="#fff" stroke="#000" stroke-width="1.1"><ellipse cx="903.0" cy="70" rx="8" ry="2.9" transform="rotate(38 903.0 70)"/><ellipse cx="909.0" cy="70" rx="8" ry="2.9" transform="rotate(38 909.0 70)"/><ellipse cx="915.0" cy="70" rx="8" ry="2.9" transform="rotate(38 915.0 70)"/><ellipse cx="921.0" cy="70" rx="8" ry="2.9" transform="rotate(38 921.0 70)"/><ellipse cx="927.0" cy="70" rx="8" ry="2.9" transform="rotate(38 927.0 70)"/><ellipse cx="933.0" cy="70" rx="8" ry="2.9" transform="rotate(38 933.0 70)"/><ellipse cx="939.0" cy="70" rx="8" ry="2.9" transform="rotate(38 939.0 70)"/><ellipse cx="945.0" cy="70" rx="8" ry="2.9" transform="rotate(38 945.0 70)"/><ellipse cx="951.0" cy="70" rx="8" ry="2.9" transform="rotate(38 951.0 70)"/><ellipse cx="957.0" cy="70" rx="8" ry="2.9" transform="rotate(38 957.0 70)"/><ellipse cx="963.0" cy="70" rx="8" ry="2.9" transform="rotate(38 963.0 70)"/><ellipse cx="969.0" cy="70" rx="8" ry="2.9" transform="rotate(38 969.0 70)"/><ellipse cx="975.0" cy="70" rx="8" ry="2.9" transform="rotate(38 975.0 70)"/><ellipse cx="981.0" cy="70" rx="8" ry="2.9" transform="rotate(38 981.0 70)"/><ellipse cx="987.0" cy="70" rx="8" ry="2.9" transform="rotate(38 987.0 70)"/><ellipse cx="993.0" cy="70" rx="8" ry="2.9" transform="rotate(38 993.0 70)"/><ellipse cx="999.0" cy="70" rx="8" ry="2.9" transform="rotate(38 999.0 70)"/><ellipse cx="1005.0" cy="70" rx="8" ry="2.9" transform="rotate(38 1005.0 70)"/><ellipse cx="1011.0" cy="70" rx="8" ry="2.9" transform="rotate(38 1011.0 70)"/><ellipse cx="1017.0" cy="70" rx="8" ry="2.9" transform="rotate(38 1017.0 70)"/><ellipse cx="1023.0" cy="70" rx="8" ry="2.9" transform="rotate(38 1023.0 70)"/><ellipse cx="1029.0" cy="70" rx="8" ry="2.9" transform="rotate(38 1029.0 70)"/><ellipse cx="1035.0" cy="70" rx="8" ry="2.9" transform="rotate(38 1035.0 70)"/><ellipse cx="1041.0" cy="70" rx="8" ry="2.9" transform="rotate(38 1041.0 70)"/><ellipse cx="1047.0" cy="70" rx="8" ry="2.9" transform="rotate(38 1047.0 70)"/><ellipse cx="906.2" cy="82" rx="10" ry="3.4" transform="rotate(-38 906.2 82)"/><ellipse cx="912.8" cy="82" rx="10" ry="3.4" transform="rotate(-38 912.8 82)"/><ellipse cx="919.2" cy="82" rx="10" ry="3.4" transform="rotate(-38 919.2 82)"/><ellipse cx="925.8" cy="82" rx="10" ry="3.4" transform="rotate(-38 925.8 82)"/><ellipse cx="932.2" cy="82" rx="10" ry="3.4" transform="rotate(-38 932.2 82)"/><ellipse cx="938.8" cy="82" rx="10" ry="3.4" transform="rotate(-38 938.8 82)"/><ellipse cx="945.2" cy="82" rx="10" ry="3.4" transform="rotate(-38 945.2 82)"/><ellipse cx="951.8" cy="82" rx="10" ry="3.4" transform="rotate(-38 951.8 82)"/><ellipse cx="958.2" cy="82" rx="10" ry="3.4" transform="rotate(-38 958.2 82)"/><ellipse cx="964.8" cy="82" rx="10" ry="3.4" transform="rotate(-38 964.8 82)"/><ellipse cx="971.2" cy="82" rx="10" ry="3.4" transform="rotate(-38 971.2 82)"/><ellipse cx="977.8" cy="82" rx="10" ry="3.4" transform="rotate(-38 977.8 82)"/><ellipse cx="984.2" cy="82" rx="10" ry="3.4" transform="rotate(-38 984.2 82)"/><ellipse cx="990.8" cy="82" rx="10" ry="3.4" transform="rotate(-38 990.8 82)"/><ellipse cx="997.2" cy="82" rx="10" ry="3.4" transform="rotate(-38 997.2 82)"/><ellipse cx="1003.8" cy="82" rx="10" ry="3.4" transform="rotate(-38 1003.8 82)"/><ellipse cx="1010.2" cy="82" rx="10" ry="3.4" transform="rotate(-38 1010.2 82)"/><ellipse cx="1016.8" cy="82" rx="10" ry="3.4" transform="rotate(-38 1016.8 82)"/><ellipse cx="1023.2" cy="82" rx="10" ry="3.4" transform="rotate(-38 1023.2 82)"/><ellipse cx="1029.8" cy="82" rx="10" ry="3.4" transform="rotate(-38 1029.8 82)"/><ellipse cx="1036.2" cy="82" rx="10" ry="3.4" transform="rotate(-38 1036.2 82)"/><ellipse cx="1042.8" cy="82" rx="10" ry="3.4" transform="rotate(-38 1042.8 82)"/><ellipse cx="1049.2" cy="82" rx="10" ry="3.4" transform="rotate(-38 1049.2 82)"/><ellipse cx="903.0" cy="93" rx="7" ry="2.6" transform="rotate(38 903.0 93)"/><ellipse cx="909.0" cy="93" rx="7" ry="2.6" transform="rotate(38 909.0 93)"/><ellipse cx="915.0" cy="93" rx="7" ry="2.6" transform="rotate(38 915.0 93)"/><ellipse cx="921.0" cy="93" rx="7" ry="2.6" transform="rotate(38 921.0 93)"/><ellipse cx="927.0" cy="93" rx="7" ry="2.6" transform="rotate(38 927.0 93)"/><ellipse cx="933.0" cy="93" rx="7" ry="2.6" transform="rotate(38 933.0 93)"/><ellipse cx="939.0" cy="93" rx="7" ry="2.6" transform="rotate(38 939.0 93)"/><ellipse cx="945.0" cy="93" rx="7" ry="2.6" transform="rotate(38 945.0 93)"/><ellipse cx="951.0" cy="93" rx="7" ry="2.6" transform="rotate(38 951.0 93)"/><ellipse cx="957.0" cy="93" rx="7" ry="2.6" transform="rotate(38 957.0 93)"/><ellipse cx="963.0" cy="93" rx="7" ry="2.6" transform="rotate(38 963.0 93)"/><ellipse cx="969.0" cy="93" rx="7" ry="2.6" transform="rotate(38 969.0 93)"/><ellipse cx="975.0" cy="93" rx="7" ry="2.6" transform="rotate(38 975.0 93)"/><ellipse cx="981.0" cy="93" rx="7" ry="2.6" transform="rotate(38 981.0 93)"/><ellipse cx="987.0" cy="93" rx="7" ry="2.6" transform="rotate(38 987.0 93)"/><ellipse cx="993.0" cy="93" rx="7" ry="2.6" transform="rotate(38 993.0 93)"/><ellipse cx="999.0" cy="93" rx="7" ry="2.6" transform="rotate(38 999.0 93)"/><ellipse cx="1005.0" cy="93" rx="7" ry="2.6" transform="rotate(38 1005.0 93)"/><ellipse cx="1011.0" cy="93" rx="7" ry="2.6" transform="rotate(38 1011.0 93)"/><ellipse cx="1017.0" cy="93" rx="7" ry="2.6" transform="rotate(38 1017.0 93)"/><ellipse cx="1023.0" cy="93" rx="7" ry="2.6" transform="rotate(38 1023.0 93)"/><ellipse cx="1029.0" cy="93" rx="7" ry="2.6" transform="rotate(38 1029.0 93)"/><ellipse cx="1035.0" cy="93" rx="7" ry="2.6" transform="rotate(38 1035.0 93)"/><ellipse cx="1041.0" cy="93" rx="7" ry="2.6" transform="rotate(38 1041.0 93)"/><ellipse cx="1047.0" cy="93" rx="7" ry="2.6" transform="rotate(38 1047.0 93)"/></g>
<rect x="905" y="65" width="141" height="33" fill="none" stroke="#000" stroke-width="1.3"/>
<rect x="912" y="66" width="44" height="31" fill="#000" opacity="0.4"/>
<path d="M903.0,48.0 C925.0,52.0 930.0,23.0 965.0,23.0 M903.5,50.4 C925.0,54.4 930.0,26.6 964.7,26.6 M904.0,52.8 C925.0,56.8 930.0,30.2 964.4,30.2 M904.5,55.2 C925.0,59.2 930.0,33.8 964.1,33.8 M905.0,57.6 C925.0,61.6 930.0,37.4 963.8,37.4 M905.5,60.0 C925.0,64.0 930.0,41.0 963.5,41.0 M906.0,62.4 C925.0,66.4 930.0,44.6 963.2,44.6 M906.5,64.8 C925.0,68.8 930.0,48.2 962.9,48.2 M907.0,67.2 C925.0,71.2 930.0,51.8 962.6,51.8 M907.5,69.6 C925.0,73.6 930.0,55.4 962.3,55.4 M908.0,72.0 C925.0,76.0 930.0,59.0 962.0,59.0 M903.0,121.0 C925.0,117.0 930.0,145.0 965.0,145.0 M903.5,118.6 C925.0,114.6 930.0,141.4 964.7,141.4 M904.0,116.2 C925.0,112.2 930.0,137.8 964.4,137.8 M904.5,113.8 C925.0,109.8 930.0,134.2 964.1,134.2 M905.0,111.4 C925.0,107.4 930.0,130.6 963.8,130.6 M905.5,109.0 C925.0,105.0 930.0,127.0 963.5,127.0 M906.0,106.6 C925.0,102.6 930.0,123.4 963.2,123.4 M906.5,104.2 C925.0,100.2 930.0,119.8 962.9,119.8 M907.0,101.8 C925.0,97.8 930.0,116.2 962.6,116.2 M907.5,99.4 C925.0,95.4 930.0,112.6 962.3,112.6 M908.0,97.0 C925.0,93.0 930.0,109.0 962.0,109.0" fill="none" stroke="#000" stroke-width="1.0"/>
<path d="M898,52 C910,62 915,80 930,95" fill="none" stroke="#000" stroke-width="3"/>
<path d="M898,118 C910,105 915,88 930,70" fill="none" stroke="#000" stroke-width="3"/>
<path d="M778.5,40 V75.5 H799" fill="none" stroke="#000" stroke-width="1.3"/><path d="M798,71 L807,75.5 L798,80 Z" fill="#000"/>
<path d="M1084.5,56 V83.3 H1064" fill="none" stroke="#000" stroke-width="1.3"/><path d="M1066,79 L1057,83.3 L1066,87.6 Z" fill="#000"/>
</svg>
<div style="left:764.82px;top:18.89px;font:normal 700 15.3px/15.3px 'Liberation Serif';color:#000;transform:scale(1.015,1.000);transform-origin:0 12.81px;">Outer Braided Cover</div>
<div style="left:986.96px;top:30.94px;font:normal 700 15.3px/15.3px 'Liberation Serif';color:#000;transform:scale(1.010,1.000);transform-origin:0 12.81px;">Inner Braided Cover</div>
<svg style="position:absolute;left:0;top:740px" width="1152" height="100" viewBox="0 740 1152 100"><text x="0" y="806" font-family="Liberation Serif" font-weight="700" font-size="50" transform="translate(351.5,0) scale(1.206,1)" fill="rgba(225,90,90,0.24)" stroke="rgba(110,60,60,0.38)" stroke-width="1.3">www.psvalve.com</text></svg>
<div style="left:61.67px;top:44.75px;font:italic 700 42px/42px 'Liberation Sans';color:#000;transform:scale(0.987,1.000);transform-origin:0 35.55px;-webkit-text-stroke:0.7px #000;">Double Braded Hawser</div>
</body></html>
